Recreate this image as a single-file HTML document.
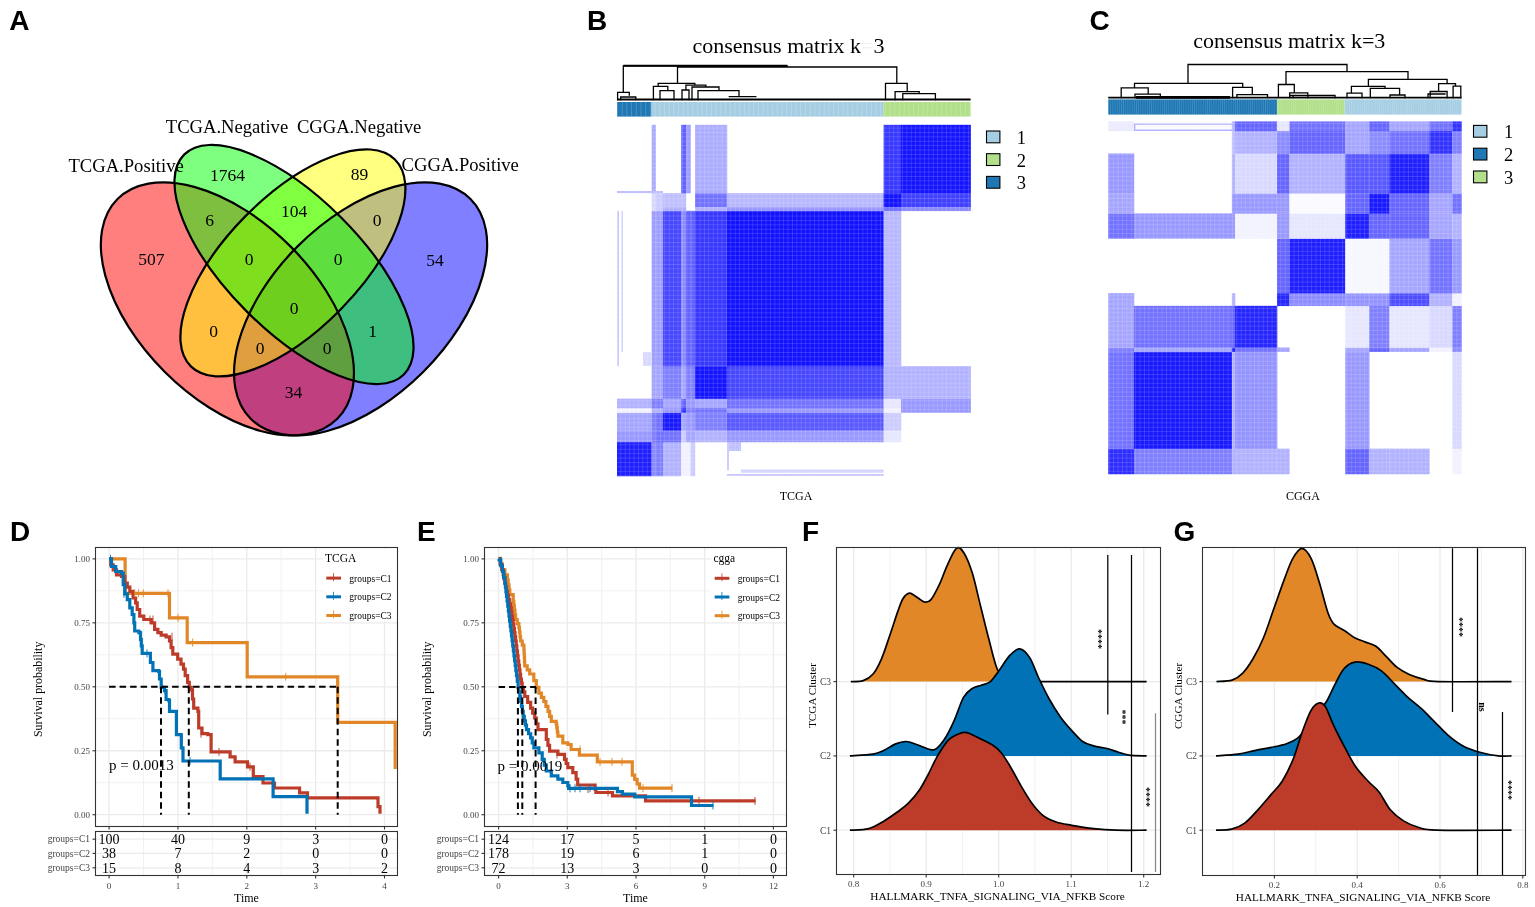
<!DOCTYPE html>
<html><head><meta charset="utf-8"><title>Figure</title><style>html,body{margin:0;padding:0;background:#fff;overflow:hidden}svg{display:block}</style></head><body>
<svg width="1535" height="907" viewBox="0 0 1535 907">
<defs><pattern id="tex" x="0" y="0" width="4.4" height="4.4" patternUnits="userSpaceOnUse"><rect x="0" y="0" width="0.8" height="4.4" fill="#fff" fill-opacity="0.16"/><rect x="0" y="0" width="4.4" height="0.8" fill="#fff" fill-opacity="0.16"/></pattern><pattern id="stB" x="617" y="0" width="4.7" height="20" patternUnits="userSpaceOnUse"><rect x="0" y="0" width="0.8" height="20" fill="#fff" fill-opacity="0.22"/></pattern><pattern id="stC" x="1108.2" y="0" width="2.15" height="20" patternUnits="userSpaceOnUse"><rect x="0" y="0" width="0.6" height="20" fill="#fff" fill-opacity="0.18"/></pattern></defs>
<rect width="1535" height="907" fill="#fff"/>
<text x="9.3" y="29.9" font-family="'Liberation Sans',Arial,sans-serif" font-weight="bold" font-size="28">A</text>
<text x="587" y="29.8" font-family="'Liberation Sans',Arial,sans-serif" font-weight="bold" font-size="28">B</text>
<text x="1089.5" y="29.6" font-family="'Liberation Sans',Arial,sans-serif" font-weight="bold" font-size="28">C</text>
<text x="10" y="540.7" font-family="'Liberation Sans',Arial,sans-serif" font-weight="bold" font-size="28">D</text>
<text x="417" y="541" font-family="'Liberation Sans',Arial,sans-serif" font-weight="bold" font-size="28">E</text>
<text x="802" y="541" font-family="'Liberation Sans',Arial,sans-serif" font-weight="bold" font-size="28">F</text>
<text x="1173.5" y="540.8" font-family="'Liberation Sans',Arial,sans-serif" font-weight="bold" font-size="28">G</text>
<ellipse cx="360.6" cy="308.92" rx="155.4" ry="88.8" transform="rotate(-45 360.6 308.92)" fill="#0000FF" fill-opacity="0.5"/>
<ellipse cx="227.4" cy="308.92" rx="155.4" ry="88.8" transform="rotate(45 227.4 308.92)" fill="#FF0000" fill-opacity="0.5"/>
<ellipse cx="292.9" cy="262.9" rx="145.3" ry="66.6" transform="rotate(-45.4 292.9 262.9)" fill="#FFFF00" fill-opacity="0.5"/>
<ellipse cx="294" cy="264.52" rx="155.4" ry="66.6" transform="rotate(45 294 264.52)" fill="#00FF00" fill-opacity="0.5"/>
<ellipse cx="360.6" cy="308.92" rx="155.4" ry="88.8" transform="rotate(-45 360.6 308.92)" fill="none" stroke="#000" stroke-width="2.2"/>
<ellipse cx="227.4" cy="308.92" rx="155.4" ry="88.8" transform="rotate(45 227.4 308.92)" fill="none" stroke="#000" stroke-width="2.2"/>
<ellipse cx="292.9" cy="262.9" rx="145.3" ry="66.6" transform="rotate(-45.4 292.9 262.9)" fill="none" stroke="#000" stroke-width="2.2"/>
<ellipse cx="294" cy="264.52" rx="155.4" ry="66.6" transform="rotate(45 294 264.52)" fill="none" stroke="#000" stroke-width="2.2"/>
<text x="151.3" y="265.4" font-family="'Liberation Serif','Times New Roman',serif" font-size="17.5" text-anchor="middle">507</text>
<text x="227.5" y="180.7" font-family="'Liberation Serif','Times New Roman',serif" font-size="17.5" text-anchor="middle">1764</text>
<text x="209.5" y="225.7" font-family="'Liberation Serif','Times New Roman',serif" font-size="17.5" text-anchor="middle">6</text>
<text x="249.2" y="264.6" font-family="'Liberation Serif','Times New Roman',serif" font-size="17.5" text-anchor="middle">0</text>
<text x="294" y="217" font-family="'Liberation Serif','Times New Roman',serif" font-size="17.5" text-anchor="middle">104</text>
<text x="359.6" y="180.3" font-family="'Liberation Serif','Times New Roman',serif" font-size="17.5" text-anchor="middle">89</text>
<text x="377" y="226" font-family="'Liberation Serif','Times New Roman',serif" font-size="17.5" text-anchor="middle">0</text>
<text x="338" y="265" font-family="'Liberation Serif','Times New Roman',serif" font-size="17.5" text-anchor="middle">0</text>
<text x="435" y="265.5" font-family="'Liberation Serif','Times New Roman',serif" font-size="17.5" text-anchor="middle">54</text>
<text x="294" y="314.3" font-family="'Liberation Serif','Times New Roman',serif" font-size="17.5" text-anchor="middle">0</text>
<text x="213.7" y="336.5" font-family="'Liberation Serif','Times New Roman',serif" font-size="17.5" text-anchor="middle">0</text>
<text x="260" y="354" font-family="'Liberation Serif','Times New Roman',serif" font-size="17.5" text-anchor="middle">0</text>
<text x="327" y="354" font-family="'Liberation Serif','Times New Roman',serif" font-size="17.5" text-anchor="middle">0</text>
<text x="372.5" y="336.5" font-family="'Liberation Serif','Times New Roman',serif" font-size="17.5" text-anchor="middle">1</text>
<text x="293.6" y="398" font-family="'Liberation Serif','Times New Roman',serif" font-size="17.5" text-anchor="middle">34</text>
<text x="68.5" y="172" font-family="'Liberation Serif','Times New Roman',serif" font-size="18.6">TCGA.Positive</text>
<text x="165.8" y="133" font-family="'Liberation Serif','Times New Roman',serif" font-size="18.6">TCGA.Negative</text>
<text x="296.9" y="132.5" font-family="'Liberation Serif','Times New Roman',serif" font-size="18.6">CGGA.Negative</text>
<text x="401.6" y="171" font-family="'Liberation Serif','Times New Roman',serif" font-size="18.6">CGGA.Positive</text>
<rect x="617" y="442" width="34.87" height="34.25" fill="rgb(31,31,255)"/>
<rect x="651.62" y="442" width="4.25" height="34.25" fill="rgb(140,140,255)"/>
<rect x="655.61" y="442" width="7.64" height="34.25" fill="rgb(128,128,255)"/>
<rect x="663" y="442" width="18.46" height="34.25" fill="rgb(178,178,255)"/>
<rect x="681.21" y="442" width="5.02" height="34.25" fill="rgb(242,242,255)"/>
<rect x="685.99" y="442" width="4.78" height="34.25" fill="rgb(242,242,255)"/>
<rect x="690.51" y="442" width="4.74" height="34.25" fill="rgb(204,204,255)"/>
<rect x="617" y="430.31" width="34.87" height="11.94" fill="rgb(153,153,255)"/>
<rect x="651.62" y="430.31" width="4.25" height="11.94" fill="rgb(128,128,255)"/>
<rect x="655.61" y="430.31" width="7.64" height="11.94" fill="rgb(115,115,255)"/>
<rect x="663" y="430.31" width="18.46" height="11.94" fill="rgb(115,115,255)"/>
<rect x="681.21" y="430.31" width="5.02" height="11.94" fill="rgb(204,204,255)"/>
<rect x="685.99" y="430.31" width="4.78" height="11.94" fill="rgb(166,166,255)"/>
<rect x="690.51" y="430.31" width="4.74" height="11.94" fill="rgb(166,166,255)"/>
<rect x="695" y="430.31" width="32.25" height="11.94" fill="rgb(178,178,255)"/>
<rect x="727" y="430.31" width="156.86" height="11.94" fill="rgb(153,153,255)"/>
<rect x="883.61" y="430.31" width="17.65" height="11.94" fill="rgb(230,230,255)"/>
<rect x="617" y="412.5" width="34.87" height="18.06" fill="rgb(166,166,255)"/>
<rect x="651.62" y="412.5" width="4.25" height="18.06" fill="rgb(128,128,255)"/>
<rect x="655.61" y="412.5" width="7.64" height="18.06" fill="rgb(115,115,255)"/>
<rect x="663" y="412.5" width="18.46" height="18.06" fill="rgb(25,25,255)"/>
<rect x="681.21" y="412.5" width="5.02" height="18.06" fill="rgb(166,166,255)"/>
<rect x="685.99" y="412.5" width="4.78" height="18.06" fill="rgb(153,153,255)"/>
<rect x="690.51" y="412.5" width="4.74" height="18.06" fill="rgb(153,153,255)"/>
<rect x="695" y="412.5" width="32.25" height="18.06" fill="rgb(128,128,255)"/>
<rect x="727" y="412.5" width="156.86" height="18.06" fill="rgb(89,89,255)"/>
<rect x="883.61" y="412.5" width="17.65" height="18.06" fill="rgb(204,204,255)"/>
<rect x="617" y="408.01" width="34.87" height="4.75" fill="rgb(242,242,255)"/>
<rect x="651.62" y="408.01" width="4.25" height="4.75" fill="rgb(178,178,255)"/>
<rect x="655.61" y="408.01" width="7.64" height="4.75" fill="rgb(178,178,255)"/>
<rect x="663" y="408.01" width="18.46" height="4.75" fill="rgb(153,153,255)"/>
<rect x="681.21" y="408.01" width="5.02" height="4.75" fill="rgb(51,51,255)"/>
<rect x="685.99" y="408.01" width="4.78" height="4.75" fill="rgb(128,128,255)"/>
<rect x="690.51" y="408.01" width="4.74" height="4.75" fill="rgb(128,128,255)"/>
<rect x="695" y="408.01" width="32.25" height="4.75" fill="rgb(115,115,255)"/>
<rect x="727" y="408.01" width="156.86" height="4.75" fill="rgb(153,153,255)"/>
<rect x="883.61" y="408.01" width="17.65" height="4.75" fill="rgb(242,242,255)"/>
<rect x="901.01" y="408.01" width="69.84" height="4.75" fill="rgb(153,153,255)"/>
<rect x="617" y="398.6" width="34.87" height="9.66" fill="rgb(178,178,255)"/>
<rect x="651.62" y="398.6" width="4.25" height="9.66" fill="rgb(128,128,255)"/>
<rect x="655.61" y="398.6" width="7.64" height="9.66" fill="rgb(128,128,255)"/>
<rect x="663" y="398.6" width="18.46" height="9.66" fill="rgb(166,166,255)"/>
<rect x="681.21" y="398.6" width="5.02" height="9.66" fill="rgb(102,102,255)"/>
<rect x="685.99" y="398.6" width="4.78" height="9.66" fill="rgb(153,153,255)"/>
<rect x="690.51" y="398.6" width="4.74" height="9.66" fill="rgb(153,153,255)"/>
<rect x="695" y="398.6" width="32.25" height="9.66" fill="rgb(166,166,255)"/>
<rect x="727" y="398.6" width="156.86" height="9.66" fill="rgb(115,115,255)"/>
<rect x="883.61" y="398.6" width="17.65" height="9.66" fill="rgb(230,230,255)"/>
<rect x="901.01" y="398.6" width="69.84" height="9.66" fill="rgb(153,153,255)"/>
<rect x="651.62" y="366.21" width="4.25" height="32.63" fill="rgb(166,166,255)"/>
<rect x="655.61" y="366.21" width="7.64" height="32.63" fill="rgb(166,166,255)"/>
<rect x="663" y="366.21" width="18.46" height="32.63" fill="rgb(128,128,255)"/>
<rect x="681.21" y="366.21" width="5.02" height="32.63" fill="rgb(166,166,255)"/>
<rect x="685.99" y="366.21" width="4.78" height="32.63" fill="rgb(128,128,255)"/>
<rect x="690.51" y="366.21" width="4.74" height="32.63" fill="rgb(128,128,255)"/>
<rect x="695" y="366.21" width="32.25" height="32.63" fill="rgb(20,20,255)"/>
<rect x="727" y="366.21" width="156.86" height="32.63" fill="rgb(71,71,255)"/>
<rect x="883.61" y="366.21" width="17.65" height="32.63" fill="rgb(178,178,255)"/>
<rect x="901.01" y="366.21" width="69.84" height="32.63" fill="rgb(178,178,255)"/>
<rect x="651.62" y="210.84" width="4.25" height="155.62" fill="rgb(158,158,255)"/>
<rect x="655.61" y="210.84" width="7.64" height="155.62" fill="rgb(158,158,255)"/>
<rect x="663" y="210.84" width="18.46" height="155.62" fill="rgb(71,71,255)"/>
<rect x="681.21" y="210.84" width="5.02" height="155.62" fill="rgb(140,140,255)"/>
<rect x="685.99" y="210.84" width="4.78" height="155.62" fill="rgb(97,97,255)"/>
<rect x="690.51" y="210.84" width="4.74" height="155.62" fill="rgb(97,97,255)"/>
<rect x="695" y="210.84" width="32.25" height="155.62" fill="rgb(56,56,255)"/>
<rect x="727" y="210.84" width="156.86" height="155.62" fill="rgb(18,18,255)"/>
<rect x="883.61" y="210.84" width="17.65" height="155.62" fill="rgb(184,184,255)"/>
<rect x="651.62" y="206.81" width="4.25" height="4.29" fill="rgb(217,217,255)"/>
<rect x="655.61" y="206.81" width="7.64" height="4.29" fill="rgb(204,204,255)"/>
<rect x="663" y="206.81" width="18.46" height="4.29" fill="rgb(178,178,255)"/>
<rect x="681.21" y="206.81" width="5.02" height="4.29" fill="rgb(178,178,255)"/>
<rect x="695" y="206.81" width="32.25" height="4.29" fill="rgb(178,178,255)"/>
<rect x="727" y="206.81" width="156.86" height="4.29" fill="rgb(153,153,255)"/>
<rect x="883.61" y="206.81" width="17.65" height="4.29" fill="rgb(115,115,255)"/>
<rect x="901.01" y="206.81" width="69.84" height="4.29" fill="rgb(140,140,255)"/>
<rect x="651.62" y="193.11" width="4.25" height="13.95" fill="rgb(217,217,255)"/>
<rect x="655.61" y="193.11" width="7.64" height="13.95" fill="rgb(204,204,255)"/>
<rect x="663" y="193.11" width="18.46" height="13.95" fill="rgb(191,191,255)"/>
<rect x="681.21" y="193.11" width="5.02" height="13.95" fill="rgb(191,191,255)"/>
<rect x="695" y="193.11" width="32.25" height="13.95" fill="rgb(115,115,255)"/>
<rect x="727" y="193.11" width="156.86" height="13.95" fill="rgb(184,184,255)"/>
<rect x="883.61" y="193.11" width="17.65" height="13.95" fill="rgb(20,20,255)"/>
<rect x="901.01" y="193.11" width="69.84" height="13.95" fill="rgb(64,64,255)"/>
<rect x="651.62" y="124.8" width="4.25" height="68.56" fill="rgb(173,173,255)"/>
<rect x="681.21" y="124.8" width="5.02" height="68.56" fill="rgb(97,97,255)"/>
<rect x="685.99" y="124.8" width="4.78" height="68.56" fill="rgb(158,158,255)"/>
<rect x="695" y="124.8" width="32.25" height="68.56" fill="rgb(173,173,255)"/>
<rect x="883.61" y="124.8" width="17.65" height="68.56" fill="rgb(56,56,255)"/>
<rect x="901.01" y="124.8" width="69.84" height="68.56" fill="rgb(20,20,255)"/>
<rect x="617.3" y="211" width="1.7" height="155" fill="rgb(199,199,255)"/>
<rect x="621.5" y="211" width="1.5" height="141" fill="rgb(209,209,255)"/>
<rect x="643" y="352" width="8.6" height="14" fill="rgb(217,217,255)"/>
<rect x="617" y="191" width="46" height="2.1" fill="rgb(191,191,255)"/>
<rect x="727" y="442" width="14" height="9" fill="rgb(191,191,255)"/>
<rect x="741" y="469.6" width="142.6" height="3.1" fill="rgb(209,209,255)"/>
<rect x="727" y="474" width="156.6" height="2" fill="rgb(199,199,255)"/>
<rect x="727" y="442" width="2" height="28" fill="rgb(204,204,255)"/>
<rect x="617" y="124.8" width="353.6" height="351.2" fill="url(#tex)"/>
<rect x="617" y="102" width="34.5" height="14.6" fill="#1F78B4"/>
<rect x="651.5" y="102" width="232.1" height="14.6" fill="#A6CEE3"/>
<rect x="883.6" y="102" width="87" height="14.6" fill="#B2DF8A"/>
<rect x="617" y="102" width="353.6" height="14.6" fill="url(#stB)"/>
<path d="M623.3 65.8 H787.2 M677.5 67 H896.8 M623.3 65.8 V92.4 M617.6 92.4 H629.3 M617.6 92.4 V99.6 M629.3 92.4 V95 M620.7 97 H635.8 M620.7 97 V99.6 M635.8 97 V99.6 M677.5 67 V83.4 M658.2 83.4 H694.8 M658.2 83.4 V86.3 M653.4 86.3 H667.8 M653.4 86.3 V99.6 M667.8 86.3 V90.7 M660 90.7 H674 M660 90.7 V99.6 M674 90.7 V99.6 M694.8 83.4 V85.1 M685.9 85.1 H705.9 M685.9 85.1 V90 M682 90 H689 M682 90 V99.6 M689 90 V99.6 M705.9 85.1 V87 M692 87 H719 M692 87 V99.6 M719 87 V90.7 M698 90.7 H739 M698 90.7 V99.6 M739 90.7 V96.7 M729.3 96.7 H755.8 M896.8 67 V83.4 M885.5 83.4 H907.2 M885.5 83.4 V99.6 M907.2 83.4 V91.6 M895.1 91.6 H919.2 M895.1 91.6 V99.6 M919.2 91.6 V93.6 M902.8 93.6 H935.4 M902.8 93.6 V99.6 M935.4 93.6 V99.6" fill="none" stroke="#000" stroke-width="1.3" stroke-linecap="square"/>
<path d="M623.3 65.8 H787.2" stroke="#000" stroke-width="2"/>
<path d="M617 99.6 H970.6" stroke="#000" stroke-width="2"/>
<text x="788.5" y="53" font-family="'Liberation Serif','Times New Roman',serif" font-size="22" text-anchor="middle">consensus matrix k<tspan fill="#f2f2f2">=</tspan>3</text>
<text x="796" y="499.7" font-family="'Liberation Serif','Times New Roman',serif" font-size="12" text-anchor="middle">TCGA</text>
<rect x="986.5" y="131" width="13.4" height="11.8" fill="#A6CEE3" stroke="#000" stroke-width="1.1"/>
<text x="1021.3" y="144" font-family="'Liberation Serif','Times New Roman',serif" font-size="18.5" text-anchor="middle">1</text>
<rect x="986.5" y="153.7" width="13.4" height="11.8" fill="#B2DF8A" stroke="#000" stroke-width="1.1"/>
<text x="1021.3" y="166.7" font-family="'Liberation Serif','Times New Roman',serif" font-size="18.5" text-anchor="middle">2</text>
<rect x="986.5" y="176.4" width="13.4" height="11.8" fill="#1F78B4" stroke="#000" stroke-width="1.1"/>
<text x="1021.3" y="189.4" font-family="'Liberation Serif','Times New Roman',serif" font-size="18.5" text-anchor="middle">3</text>
<rect x="1108.2" y="448.61" width="26.04" height="25.64" fill="rgb(46,46,255)"/>
<rect x="1133.99" y="448.61" width="98.11" height="25.64" fill="rgb(128,128,255)"/>
<rect x="1231.86" y="448.61" width="3.43" height="25.64" fill="rgb(178,178,255)"/>
<rect x="1235.03" y="448.61" width="42.29" height="25.64" fill="rgb(178,178,255)"/>
<rect x="1277.08" y="448.61" width="12.62" height="25.64" fill="rgb(178,178,255)"/>
<rect x="1345.26" y="448.61" width="24.27" height="25.64" fill="rgb(102,102,255)"/>
<rect x="1369.29" y="448.61" width="20.39" height="25.64" fill="rgb(178,178,255)"/>
<rect x="1389.43" y="448.61" width="40.17" height="25.64" fill="rgb(178,178,255)"/>
<rect x="1452.31" y="448.61" width="9.44" height="25.64" fill="rgb(242,242,255)"/>
<rect x="1108.2" y="351.65" width="26.04" height="97.21" fill="rgb(115,115,255)"/>
<rect x="1133.99" y="351.65" width="98.11" height="97.21" fill="rgb(25,25,255)"/>
<rect x="1231.86" y="351.65" width="3.43" height="97.21" fill="rgb(178,178,255)"/>
<rect x="1235.03" y="351.65" width="42.29" height="97.21" fill="rgb(148,148,255)"/>
<rect x="1345.26" y="351.65" width="24.27" height="97.21" fill="rgb(153,153,255)"/>
<rect x="1452.31" y="351.65" width="9.44" height="97.21" fill="rgb(217,217,255)"/>
<rect x="1108.2" y="347.42" width="26.04" height="4.48" fill="rgb(128,128,255)"/>
<rect x="1133.99" y="347.42" width="98.11" height="4.48" fill="rgb(166,166,255)"/>
<rect x="1231.86" y="347.42" width="3.43" height="4.48" fill="rgb(38,38,255)"/>
<rect x="1235.03" y="347.42" width="42.29" height="4.48" fill="rgb(115,115,255)"/>
<rect x="1277.08" y="347.42" width="12.62" height="4.48" fill="rgb(166,166,255)"/>
<rect x="1345.26" y="347.42" width="24.27" height="4.48" fill="rgb(166,166,255)"/>
<rect x="1369.29" y="347.42" width="20.39" height="4.48" fill="rgb(102,102,255)"/>
<rect x="1389.43" y="347.42" width="40.17" height="4.48" fill="rgb(166,166,255)"/>
<rect x="1429.35" y="347.42" width="23.21" height="4.48" fill="rgb(242,242,255)"/>
<rect x="1452.31" y="347.42" width="9.44" height="4.48" fill="rgb(140,140,255)"/>
<rect x="1108.2" y="305.81" width="26.04" height="41.86" fill="rgb(166,166,255)"/>
<rect x="1133.99" y="305.81" width="98.11" height="41.86" fill="rgb(115,115,255)"/>
<rect x="1231.86" y="305.81" width="3.43" height="41.86" fill="rgb(102,102,255)"/>
<rect x="1235.03" y="305.81" width="42.29" height="41.86" fill="rgb(38,38,255)"/>
<rect x="1345.26" y="305.81" width="24.27" height="41.86" fill="rgb(230,230,255)"/>
<rect x="1369.29" y="305.81" width="20.39" height="41.86" fill="rgb(128,128,255)"/>
<rect x="1389.43" y="305.81" width="40.17" height="41.86" fill="rgb(230,230,255)"/>
<rect x="1429.35" y="305.81" width="23.21" height="41.86" fill="rgb(217,217,255)"/>
<rect x="1452.31" y="305.81" width="9.44" height="41.86" fill="rgb(128,128,255)"/>
<rect x="1108.2" y="293.12" width="26.04" height="12.94" fill="rgb(166,166,255)"/>
<rect x="1231.86" y="293.12" width="3.43" height="12.94" fill="rgb(178,178,255)"/>
<rect x="1277.08" y="293.12" width="12.62" height="12.94" fill="rgb(38,38,255)"/>
<rect x="1289.44" y="293.12" width="56.07" height="12.94" fill="rgb(140,140,255)"/>
<rect x="1345.26" y="293.12" width="24.27" height="12.94" fill="rgb(148,148,255)"/>
<rect x="1369.29" y="293.12" width="20.39" height="12.94" fill="rgb(148,148,255)"/>
<rect x="1389.43" y="293.12" width="40.17" height="12.94" fill="rgb(77,77,255)"/>
<rect x="1429.35" y="293.12" width="23.21" height="12.94" fill="rgb(178,178,255)"/>
<rect x="1452.31" y="293.12" width="9.44" height="12.94" fill="rgb(242,242,255)"/>
<rect x="1277.08" y="238.46" width="12.62" height="54.9" fill="rgb(102,102,255)"/>
<rect x="1289.44" y="238.46" width="56.07" height="54.9" fill="rgb(31,31,255)"/>
<rect x="1345.26" y="238.46" width="24.27" height="54.9" fill="rgb(247,247,255)"/>
<rect x="1369.29" y="238.46" width="20.39" height="54.9" fill="rgb(247,247,255)"/>
<rect x="1389.43" y="238.46" width="40.17" height="54.9" fill="rgb(166,166,255)"/>
<rect x="1429.35" y="238.46" width="23.21" height="54.9" fill="rgb(115,115,255)"/>
<rect x="1452.31" y="238.46" width="9.44" height="54.9" fill="rgb(153,153,255)"/>
<rect x="1108.2" y="213.43" width="26.04" height="25.28" fill="rgb(115,115,255)"/>
<rect x="1133.99" y="213.43" width="98.11" height="25.28" fill="rgb(153,153,255)"/>
<rect x="1231.86" y="213.43" width="3.43" height="25.28" fill="rgb(153,153,255)"/>
<rect x="1235.03" y="213.43" width="42.29" height="25.28" fill="rgb(242,242,255)"/>
<rect x="1277.08" y="213.43" width="12.62" height="25.28" fill="rgb(153,153,255)"/>
<rect x="1289.44" y="213.43" width="56.07" height="25.28" fill="rgb(230,230,255)"/>
<rect x="1345.26" y="213.43" width="24.27" height="25.28" fill="rgb(31,31,255)"/>
<rect x="1369.29" y="213.43" width="20.39" height="25.28" fill="rgb(102,102,255)"/>
<rect x="1389.43" y="213.43" width="40.17" height="25.28" fill="rgb(102,102,255)"/>
<rect x="1429.35" y="213.43" width="23.21" height="25.28" fill="rgb(166,166,255)"/>
<rect x="1452.31" y="213.43" width="9.44" height="25.28" fill="rgb(178,178,255)"/>
<rect x="1108.2" y="193.33" width="26.04" height="20.35" fill="rgb(166,166,255)"/>
<rect x="1231.86" y="193.33" width="3.43" height="20.35" fill="rgb(153,153,255)"/>
<rect x="1235.03" y="193.33" width="42.29" height="20.35" fill="rgb(153,153,255)"/>
<rect x="1277.08" y="193.33" width="12.62" height="20.35" fill="rgb(153,153,255)"/>
<rect x="1289.44" y="193.33" width="56.07" height="20.35" fill="rgb(250,250,255)"/>
<rect x="1345.26" y="193.33" width="24.27" height="20.35" fill="rgb(102,102,255)"/>
<rect x="1369.29" y="193.33" width="20.39" height="20.35" fill="rgb(25,25,255)"/>
<rect x="1389.43" y="193.33" width="40.17" height="20.35" fill="rgb(102,102,255)"/>
<rect x="1429.35" y="193.33" width="23.21" height="20.35" fill="rgb(166,166,255)"/>
<rect x="1452.31" y="193.33" width="9.44" height="20.35" fill="rgb(115,115,255)"/>
<rect x="1108.2" y="153.49" width="26.04" height="40.09" fill="rgb(153,153,255)"/>
<rect x="1231.86" y="153.49" width="3.43" height="40.09" fill="rgb(178,178,255)"/>
<rect x="1235.03" y="153.49" width="42.29" height="40.09" fill="rgb(217,217,255)"/>
<rect x="1277.08" y="153.49" width="12.62" height="40.09" fill="rgb(102,102,255)"/>
<rect x="1289.44" y="153.49" width="56.07" height="40.09" fill="rgb(178,178,255)"/>
<rect x="1345.26" y="153.49" width="24.27" height="40.09" fill="rgb(89,89,255)"/>
<rect x="1369.29" y="153.49" width="20.39" height="40.09" fill="rgb(89,89,255)"/>
<rect x="1389.43" y="153.49" width="40.17" height="40.09" fill="rgb(31,31,255)"/>
<rect x="1429.35" y="153.49" width="23.21" height="40.09" fill="rgb(128,128,255)"/>
<rect x="1452.31" y="153.49" width="9.44" height="40.09" fill="rgb(178,178,255)"/>
<rect x="1231.86" y="130.92" width="3.43" height="22.82" fill="rgb(191,191,255)"/>
<rect x="1235.03" y="130.92" width="42.29" height="22.82" fill="rgb(178,178,255)"/>
<rect x="1277.08" y="130.92" width="12.62" height="22.82" fill="rgb(140,140,255)"/>
<rect x="1289.44" y="130.92" width="56.07" height="22.82" fill="rgb(102,102,255)"/>
<rect x="1345.26" y="130.92" width="24.27" height="22.82" fill="rgb(166,166,255)"/>
<rect x="1369.29" y="130.92" width="20.39" height="22.82" fill="rgb(140,140,255)"/>
<rect x="1389.43" y="130.92" width="40.17" height="22.82" fill="rgb(115,115,255)"/>
<rect x="1429.35" y="130.92" width="23.21" height="22.82" fill="rgb(51,51,255)"/>
<rect x="1452.31" y="130.92" width="9.44" height="22.82" fill="rgb(128,128,255)"/>
<rect x="1108.2" y="121.4" width="26.04" height="9.77" fill="rgb(235,235,255)"/>
<rect x="1133.99" y="121.4" width="98.11" height="9.77" fill="rgb(250,250,255)"/>
<rect x="1231.86" y="121.4" width="3.43" height="9.77" fill="rgb(178,178,255)"/>
<rect x="1235.03" y="121.4" width="42.29" height="9.77" fill="rgb(102,102,255)"/>
<rect x="1277.08" y="121.4" width="12.62" height="9.77" fill="rgb(230,230,255)"/>
<rect x="1289.44" y="121.4" width="56.07" height="9.77" fill="rgb(115,115,255)"/>
<rect x="1345.26" y="121.4" width="24.27" height="9.77" fill="rgb(166,166,255)"/>
<rect x="1369.29" y="121.4" width="20.39" height="9.77" fill="rgb(102,102,255)"/>
<rect x="1389.43" y="121.4" width="40.17" height="9.77" fill="rgb(166,166,255)"/>
<rect x="1429.35" y="121.4" width="23.21" height="9.77" fill="rgb(115,115,255)"/>
<rect x="1452.31" y="121.4" width="9.44" height="9.77" fill="rgb(51,51,255)"/>
<rect x="1134" y="123.5" width="98" height="1.3" fill="rgb(178,178,255)"/>
<rect x="1134" y="129.5" width="98" height="1.5" fill="rgb(178,178,255)"/>
<rect x="1134" y="123.5" width="1.5" height="7.5" fill="rgb(178,178,255)"/>
<rect x="1108.2" y="121.4" width="353.3" height="352.6" fill="url(#tex)"/>
<rect x="1108.2" y="99.4" width="168.9" height="15.2" fill="#1F78B4"/>
<rect x="1277.1" y="99.4" width="67.5" height="15.2" fill="#B2DF8A"/>
<rect x="1344.6" y="99.4" width="116.9" height="15.2" fill="#A6CEE3"/>
<rect x="1108.2" y="99.4" width="353.3" height="15.2" fill="url(#stC)"/>
<path d="M1188 64.5 H1347 M1188 64.5 V83.3 M1134.5 83.3 H1242.7 M1134.5 83.3 V87.8 M1121.2 87.8 H1148.2 M1121.2 87.8 V97.5 M1148.2 87.8 V94.1 M1135 94.1 H1160.3 M1135 94.1 V97.5 M1160.3 94.1 V97.5 M1242.7 83.3 V87.4 M1232.6 87.4 H1252.3 M1232.6 87.4 V97.5 M1252.3 87.4 V94.6 M1236.9 94.6 H1267.5 M1236.9 94.6 V97.5 M1267.5 94.6 V97.5 M1347 64.5 V71.7 M1286 71.7 H1408 M1286 71.7 V84.5 M1278.4 84.5 H1294.3 M1278.4 84.5 V97.5 M1294.3 84.5 V92.9 M1289.7 92.9 H1307.8 M1289.7 92.9 V97.5 M1307.8 92.9 V97.5 M1408 71.7 V79.4 M1368.4 79.4 H1447.1 M1368.4 79.4 V86.3 M1351.4 86.3 H1385 M1351.4 86.3 V93.2 M1347 93.2 H1362 M1347 93.2 V97.5 M1362 93.2 V97.5 M1385 86.3 V88.3 M1370.3 88.3 H1399.6 M1370.3 88.3 V97.5 M1399.6 88.3 V95 M1390 95 H1405 M1390 95 V97.5 M1405 95 V97.5 M1291 95.5 H1335 M1293 95.5 V97.5 M1335 95.5 V97.5 M1428 94 H1445 M1428 94 V97.5 M1447.1 79.4 V83.7 M1438.6 83.7 H1455.5 M1438.6 83.7 V91.5 M1430.2 91.5 H1447.1 M1430.2 91.5 V97.5 M1447.1 91.5 V97.5 M1455.5 83.7 V86.2 M1453.1 86.2 H1460.8 M1453.1 86.2 V97.5 M1460.8 86.2 V97.5" fill="none" stroke="#000" stroke-width="1.3" stroke-linecap="square"/>
<path d="M1108.2 97.6 H1461.5" stroke="#000" stroke-width="1.8"/>
<path d="M1136 97.4 H1230" stroke="#000" stroke-width="2.6"/>
<text x="1289.3" y="48.4" font-family="'Liberation Serif','Times New Roman',serif" font-size="22" text-anchor="middle">consensus matrix k=3</text>
<text x="1302.9" y="500" font-family="'Liberation Serif','Times New Roman',serif" font-size="12" text-anchor="middle">CGGA</text>
<rect x="1473.5" y="125.4" width="13.4" height="11.8" fill="#A6CEE3" stroke="#000" stroke-width="1.1"/>
<text x="1508.5" y="137.9" font-family="'Liberation Serif','Times New Roman',serif" font-size="18.5" text-anchor="middle">1</text>
<rect x="1473.5" y="148.2" width="13.4" height="11.8" fill="#1F78B4" stroke="#000" stroke-width="1.1"/>
<text x="1508.5" y="160.7" font-family="'Liberation Serif','Times New Roman',serif" font-size="18.5" text-anchor="middle">2</text>
<rect x="1473.5" y="171" width="13.4" height="11.8" fill="#B2DF8A" stroke="#000" stroke-width="1.1"/>
<text x="1508.5" y="183.5" font-family="'Liberation Serif','Times New Roman',serif" font-size="18.5" text-anchor="middle">3</text>
<rect x="95.5" y="547.5" width="302" height="279" fill="#fff"/>
<line x1="143.52" y1="547.5" x2="143.52" y2="826.5" stroke="#EBEBEB" stroke-width="0.7"/>
<line x1="212.38" y1="547.5" x2="212.38" y2="826.5" stroke="#EBEBEB" stroke-width="0.7"/>
<line x1="281.23" y1="547.5" x2="281.23" y2="826.5" stroke="#EBEBEB" stroke-width="0.7"/>
<line x1="350.07" y1="547.5" x2="350.07" y2="826.5" stroke="#EBEBEB" stroke-width="0.7"/>
<line x1="95.5" y1="782.73" x2="397.5" y2="782.73" stroke="#EBEBEB" stroke-width="0.7"/>
<line x1="95.5" y1="718.78" x2="397.5" y2="718.78" stroke="#EBEBEB" stroke-width="0.7"/>
<line x1="95.5" y1="654.83" x2="397.5" y2="654.83" stroke="#EBEBEB" stroke-width="0.7"/>
<line x1="95.5" y1="590.88" x2="397.5" y2="590.88" stroke="#EBEBEB" stroke-width="0.7"/>
<line x1="109.1" y1="547.5" x2="109.1" y2="826.5" stroke="#EBEBEB" stroke-width="1.3"/>
<line x1="177.95" y1="547.5" x2="177.95" y2="826.5" stroke="#EBEBEB" stroke-width="1.3"/>
<line x1="246.8" y1="547.5" x2="246.8" y2="826.5" stroke="#EBEBEB" stroke-width="1.3"/>
<line x1="315.65" y1="547.5" x2="315.65" y2="826.5" stroke="#EBEBEB" stroke-width="1.3"/>
<line x1="384.5" y1="547.5" x2="384.5" y2="826.5" stroke="#EBEBEB" stroke-width="1.3"/>
<line x1="95.5" y1="814.7" x2="397.5" y2="814.7" stroke="#EBEBEB" stroke-width="1.3"/>
<line x1="95.5" y1="750.75" x2="397.5" y2="750.75" stroke="#EBEBEB" stroke-width="1.3"/>
<line x1="95.5" y1="686.8" x2="397.5" y2="686.8" stroke="#EBEBEB" stroke-width="1.3"/>
<line x1="95.5" y1="622.85" x2="397.5" y2="622.85" stroke="#EBEBEB" stroke-width="1.3"/>
<line x1="95.5" y1="558.9" x2="397.5" y2="558.9" stroke="#EBEBEB" stroke-width="1.3"/>
<rect x="323" y="548.8" width="73.5" height="72.5" fill="#fff"/>
<path d="M109.1 558.9 H125.1 V593.3 H169.5 V617.8 H187.2 V642.6 H247.2 V676.8 H337.7 V722.4 H395.2 V769" fill="none" stroke="#E18727" stroke-width="3.2" stroke-linejoin="miter"/>
<path d="M109.1 558.9 H110.7 V564.9 H113.2 V569.8 H116.5 V574.8 H121.5 V576.5 H124.8 V583.1 H127.3 V587.2 H129.8 V591.3 H133.1 V598 H135.6 V602.9 H137.2 V609.5 H139.7 V616.1 H143.8 V619.5 H151.3 V622.8 H154.6 V629.4 H157.9 V632.7 H161.2 V635.2 H166.1 V636.8 H169.5 V641 H171.1 V647.6 H172.8 V654.2 H177.7 V659.1 H181 V664.1 H183.5 V669.1 H185.2 V675.7 H187.6 V682.3 H189.3 V687.3 H191.3 V689.9 H192.5 V699 H193.7 V708.1 H197.9 V711.4 H198.7 V728 H202 V733.7 H207.8 V734.6 H211.1 V751.9 H230.1 V756.9 H235.1 V761.9 H247.5 V766.8 H253.3 V776.7 H263 V783 H274.5 V788 H299.6 V792.9 H307.5 V797.8 H378 V806.7 H380 V813.7" fill="none" stroke="#BC3C29" stroke-width="3.2" stroke-linejoin="miter"/>
<path d="M109.1 558.9 H111.5 V566.5 H115.7 V571.5 H121.5 V573.2 H123.2 V584.7 H124.8 V593.8 H127.3 V599.6 H129.8 V607.9 H132.2 V614.5 H133.9 V622.8 H134.7 V631 H138.9 V632.7 H140.5 V639.3 H141.3 V645.9 H142.2 V653.4 H150.4 V662.5 H152.9 V670.7 H158.7 V671.5 H159.5 V679 H161.2 V687.3 H164.5 V690.6 H166.1 V699.5 H168.9 V700.7 H169.5 V711.4 H175.6 V711.4 H176.4 V734.6 H180.5 V734.6 H181.3 V747.8 H183 V761 H220.2 V778.9 H273.1 V796.6 H307 V813.7" fill="none" stroke="#0072B5" stroke-width="3.2" stroke-linejoin="miter"/>
<line x1="134.7" y1="589.3" x2="134.7" y2="597.3" stroke="#E18727" stroke-width="0.9"/>
<line x1="138.5" y1="589.3" x2="138.5" y2="597.3" stroke="#E18727" stroke-width="0.9"/>
<line x1="143.3" y1="589.3" x2="143.3" y2="597.3" stroke="#E18727" stroke-width="0.9"/>
<line x1="168" y1="589.3" x2="168" y2="597.3" stroke="#E18727" stroke-width="0.9"/>
<line x1="178" y1="613.8" x2="178" y2="621.8" stroke="#E18727" stroke-width="0.9"/>
<line x1="192.6" y1="638.6" x2="192.6" y2="646.6" stroke="#E18727" stroke-width="0.9"/>
<line x1="285.7" y1="672.8" x2="285.7" y2="680.8" stroke="#E18727" stroke-width="0.9"/>
<line x1="150" y1="615.5" x2="150" y2="623.5" stroke="#BC3C29" stroke-width="0.9"/>
<line x1="153" y1="615.5" x2="153" y2="623.5" stroke="#BC3C29" stroke-width="0.9"/>
<line x1="172" y1="632.8" x2="172" y2="640.8" stroke="#BC3C29" stroke-width="0.9"/>
<line x1="201" y1="729.7" x2="201" y2="737.7" stroke="#BC3C29" stroke-width="0.9"/>
<line x1="219" y1="747.9" x2="219" y2="755.9" stroke="#BC3C29" stroke-width="0.9"/>
<line x1="250" y1="762.8" x2="250" y2="770.8" stroke="#BC3C29" stroke-width="0.9"/>
<line x1="110.5" y1="554.9" x2="110.5" y2="562.9" stroke="#0072B5" stroke-width="0.9"/>
<line x1="124" y1="589.8" x2="124" y2="597.8" stroke="#0072B5" stroke-width="0.9"/>
<line x1="147" y1="649.4" x2="147" y2="657.4" stroke="#0072B5" stroke-width="0.9"/>
<line x1="165" y1="686.6" x2="165" y2="694.6" stroke="#0072B5" stroke-width="0.9"/>
<line x1="190" y1="757" x2="190" y2="765" stroke="#0072B5" stroke-width="0.9"/>
<path d="M109.1 686.8 H337.7" fill="none" stroke="#000" stroke-width="2" stroke-dasharray="6.5 4"/>
<path d="M161 686.8 V814.7" fill="none" stroke="#000" stroke-width="2" stroke-dasharray="6.5 4"/>
<path d="M188.8 686.8 V814.7" fill="none" stroke="#000" stroke-width="2" stroke-dasharray="6.5 4"/>
<path d="M337.7 686.8 V814.7" fill="none" stroke="#000" stroke-width="2" stroke-dasharray="6.5 4"/>
<rect x="95.5" y="547.5" width="302" height="279" fill="none" stroke="#333333" stroke-width="1.1"/>
<line x1="92.5" y1="814.7" x2="95.5" y2="814.7" stroke="#333333" stroke-width="1.1"/>
<text x="90" y="817.9" font-family="'Liberation Serif','Times New Roman',serif" font-size="9" fill="#444444" text-anchor="end">0.00</text>
<line x1="92.5" y1="750.75" x2="95.5" y2="750.75" stroke="#333333" stroke-width="1.1"/>
<text x="90" y="753.95" font-family="'Liberation Serif','Times New Roman',serif" font-size="9" fill="#444444" text-anchor="end">0.25</text>
<line x1="92.5" y1="686.8" x2="95.5" y2="686.8" stroke="#333333" stroke-width="1.1"/>
<text x="90" y="690" font-family="'Liberation Serif','Times New Roman',serif" font-size="9" fill="#444444" text-anchor="end">0.50</text>
<line x1="92.5" y1="622.85" x2="95.5" y2="622.85" stroke="#333333" stroke-width="1.1"/>
<text x="90" y="626.05" font-family="'Liberation Serif','Times New Roman',serif" font-size="9" fill="#444444" text-anchor="end">0.75</text>
<line x1="92.5" y1="558.9" x2="95.5" y2="558.9" stroke="#333333" stroke-width="1.1"/>
<text x="90" y="562.1" font-family="'Liberation Serif','Times New Roman',serif" font-size="9" fill="#444444" text-anchor="end">1.00</text>
<line x1="109.1" y1="826.5" x2="109.1" y2="829.5" stroke="#333333" stroke-width="1.1"/>
<line x1="177.95" y1="826.5" x2="177.95" y2="829.5" stroke="#333333" stroke-width="1.1"/>
<line x1="246.8" y1="826.5" x2="246.8" y2="829.5" stroke="#333333" stroke-width="1.1"/>
<line x1="315.65" y1="826.5" x2="315.65" y2="829.5" stroke="#333333" stroke-width="1.1"/>
<line x1="384.5" y1="826.5" x2="384.5" y2="829.5" stroke="#333333" stroke-width="1.1"/>
<text transform="translate(41.7 689.4) rotate(-90)" font-family="'Liberation Serif','Times New Roman',serif" font-size="11.9" text-anchor="middle">Survival probability</text>
<text x="325" y="561.8" font-family="'Liberation Serif','Times New Roman',serif" font-size="11.5">TCGA</text>
<line x1="326.3" y1="578.1" x2="341" y2="578.1" stroke="#BC3C29" stroke-width="3"/>
<line x1="333.5" y1="573.1" x2="333.5" y2="581.1" stroke="#BC3C29" stroke-width="0.8"/>
<text x="349.3" y="581.6" font-family="'Liberation Serif','Times New Roman',serif" font-size="9.5" fill="#000">groups=C1</text>
<line x1="326.3" y1="596.8" x2="341" y2="596.8" stroke="#0072B5" stroke-width="3"/>
<line x1="333.5" y1="591.8" x2="333.5" y2="599.8" stroke="#0072B5" stroke-width="0.8"/>
<text x="349.3" y="600.3" font-family="'Liberation Serif','Times New Roman',serif" font-size="9.5" fill="#000">groups=C2</text>
<line x1="326.3" y1="615.5" x2="341" y2="615.5" stroke="#E18727" stroke-width="3"/>
<line x1="333.5" y1="610.5" x2="333.5" y2="618.5" stroke="#E18727" stroke-width="0.8"/>
<text x="349.3" y="619" font-family="'Liberation Serif','Times New Roman',serif" font-size="9.5" fill="#000">groups=C3</text>
<text x="109" y="769.6" font-family="'Liberation Serif','Times New Roman',serif" font-size="15">p = 0.0013</text>
<rect x="95.5" y="831.5" width="302" height="44" fill="#fff"/>
<line x1="143.52" y1="831.5" x2="143.52" y2="875.5" stroke="#EBEBEB" stroke-width="0.7"/>
<line x1="212.38" y1="831.5" x2="212.38" y2="875.5" stroke="#EBEBEB" stroke-width="0.7"/>
<line x1="281.23" y1="831.5" x2="281.23" y2="875.5" stroke="#EBEBEB" stroke-width="0.7"/>
<line x1="350.07" y1="831.5" x2="350.07" y2="875.5" stroke="#EBEBEB" stroke-width="0.7"/>
<line x1="109.1" y1="831.5" x2="109.1" y2="875.5" stroke="#EBEBEB" stroke-width="1.3"/>
<line x1="177.95" y1="831.5" x2="177.95" y2="875.5" stroke="#EBEBEB" stroke-width="1.3"/>
<line x1="246.8" y1="831.5" x2="246.8" y2="875.5" stroke="#EBEBEB" stroke-width="1.3"/>
<line x1="315.65" y1="831.5" x2="315.65" y2="875.5" stroke="#EBEBEB" stroke-width="1.3"/>
<line x1="384.5" y1="831.5" x2="384.5" y2="875.5" stroke="#EBEBEB" stroke-width="1.3"/>
<line x1="95.5" y1="839.2" x2="397.5" y2="839.2" stroke="#EBEBEB" stroke-width="1.3"/>
<line x1="95.5" y1="853.4" x2="397.5" y2="853.4" stroke="#EBEBEB" stroke-width="1.3"/>
<line x1="95.5" y1="867.8" x2="397.5" y2="867.8" stroke="#EBEBEB" stroke-width="1.3"/>
<text x="109.1" y="844.2" font-family="'Liberation Serif','Times New Roman',serif" font-size="14" text-anchor="middle">100</text>
<text x="177.95" y="844.2" font-family="'Liberation Serif','Times New Roman',serif" font-size="14" text-anchor="middle">40</text>
<text x="246.8" y="844.2" font-family="'Liberation Serif','Times New Roman',serif" font-size="14" text-anchor="middle">9</text>
<text x="315.65" y="844.2" font-family="'Liberation Serif','Times New Roman',serif" font-size="14" text-anchor="middle">3</text>
<text x="384.5" y="844.2" font-family="'Liberation Serif','Times New Roman',serif" font-size="14" text-anchor="middle">0</text>
<line x1="92.5" y1="839.2" x2="95.5" y2="839.2" stroke="#333333" stroke-width="1.1"/>
<text x="90" y="842.4" font-family="'Liberation Serif','Times New Roman',serif" font-size="9.5" fill="#444444" text-anchor="end">groups=C1</text>
<text x="109.1" y="858.4" font-family="'Liberation Serif','Times New Roman',serif" font-size="14" text-anchor="middle">38</text>
<text x="177.95" y="858.4" font-family="'Liberation Serif','Times New Roman',serif" font-size="14" text-anchor="middle">7</text>
<text x="246.8" y="858.4" font-family="'Liberation Serif','Times New Roman',serif" font-size="14" text-anchor="middle">2</text>
<text x="315.65" y="858.4" font-family="'Liberation Serif','Times New Roman',serif" font-size="14" text-anchor="middle">0</text>
<text x="384.5" y="858.4" font-family="'Liberation Serif','Times New Roman',serif" font-size="14" text-anchor="middle">0</text>
<line x1="92.5" y1="853.4" x2="95.5" y2="853.4" stroke="#333333" stroke-width="1.1"/>
<text x="90" y="856.6" font-family="'Liberation Serif','Times New Roman',serif" font-size="9.5" fill="#444444" text-anchor="end">groups=C2</text>
<text x="109.1" y="872.8" font-family="'Liberation Serif','Times New Roman',serif" font-size="14" text-anchor="middle">15</text>
<text x="177.95" y="872.8" font-family="'Liberation Serif','Times New Roman',serif" font-size="14" text-anchor="middle">8</text>
<text x="246.8" y="872.8" font-family="'Liberation Serif','Times New Roman',serif" font-size="14" text-anchor="middle">4</text>
<text x="315.65" y="872.8" font-family="'Liberation Serif','Times New Roman',serif" font-size="14" text-anchor="middle">3</text>
<text x="384.5" y="872.8" font-family="'Liberation Serif','Times New Roman',serif" font-size="14" text-anchor="middle">2</text>
<line x1="92.5" y1="867.8" x2="95.5" y2="867.8" stroke="#333333" stroke-width="1.1"/>
<text x="90" y="871" font-family="'Liberation Serif','Times New Roman',serif" font-size="9.5" fill="#444444" text-anchor="end">groups=C3</text>
<rect x="95.5" y="831.5" width="302" height="44" fill="none" stroke="#333333" stroke-width="1.1"/>
<line x1="109.1" y1="875.5" x2="109.1" y2="878.5" stroke="#333333" stroke-width="1.1"/>
<text x="109.1" y="889" font-family="'Liberation Serif','Times New Roman',serif" font-size="9" fill="#444444" text-anchor="middle">0</text>
<line x1="177.95" y1="875.5" x2="177.95" y2="878.5" stroke="#333333" stroke-width="1.1"/>
<text x="177.95" y="889" font-family="'Liberation Serif','Times New Roman',serif" font-size="9" fill="#444444" text-anchor="middle">1</text>
<line x1="246.8" y1="875.5" x2="246.8" y2="878.5" stroke="#333333" stroke-width="1.1"/>
<text x="246.8" y="889" font-family="'Liberation Serif','Times New Roman',serif" font-size="9" fill="#444444" text-anchor="middle">2</text>
<line x1="315.65" y1="875.5" x2="315.65" y2="878.5" stroke="#333333" stroke-width="1.1"/>
<text x="315.65" y="889" font-family="'Liberation Serif','Times New Roman',serif" font-size="9" fill="#444444" text-anchor="middle">3</text>
<line x1="384.5" y1="875.5" x2="384.5" y2="878.5" stroke="#333333" stroke-width="1.1"/>
<text x="384.5" y="889" font-family="'Liberation Serif','Times New Roman',serif" font-size="9" fill="#444444" text-anchor="middle">4</text>
<text x="246.5" y="902" font-family="'Liberation Serif','Times New Roman',serif" font-size="12" text-anchor="middle">Time</text>
<rect x="484.5" y="547.5" width="302" height="279" fill="#fff"/>
<line x1="532.95" y1="547.5" x2="532.95" y2="826.5" stroke="#EBEBEB" stroke-width="0.7"/>
<line x1="601.65" y1="547.5" x2="601.65" y2="826.5" stroke="#EBEBEB" stroke-width="0.7"/>
<line x1="670.35" y1="547.5" x2="670.35" y2="826.5" stroke="#EBEBEB" stroke-width="0.7"/>
<line x1="739.05" y1="547.5" x2="739.05" y2="826.5" stroke="#EBEBEB" stroke-width="0.7"/>
<line x1="484.5" y1="782.73" x2="786.5" y2="782.73" stroke="#EBEBEB" stroke-width="0.7"/>
<line x1="484.5" y1="718.78" x2="786.5" y2="718.78" stroke="#EBEBEB" stroke-width="0.7"/>
<line x1="484.5" y1="654.83" x2="786.5" y2="654.83" stroke="#EBEBEB" stroke-width="0.7"/>
<line x1="484.5" y1="590.88" x2="786.5" y2="590.88" stroke="#EBEBEB" stroke-width="0.7"/>
<line x1="498.6" y1="547.5" x2="498.6" y2="826.5" stroke="#EBEBEB" stroke-width="1.3"/>
<line x1="567.3" y1="547.5" x2="567.3" y2="826.5" stroke="#EBEBEB" stroke-width="1.3"/>
<line x1="636" y1="547.5" x2="636" y2="826.5" stroke="#EBEBEB" stroke-width="1.3"/>
<line x1="704.7" y1="547.5" x2="704.7" y2="826.5" stroke="#EBEBEB" stroke-width="1.3"/>
<line x1="773.4" y1="547.5" x2="773.4" y2="826.5" stroke="#EBEBEB" stroke-width="1.3"/>
<line x1="484.5" y1="814.7" x2="786.5" y2="814.7" stroke="#EBEBEB" stroke-width="1.3"/>
<line x1="484.5" y1="750.75" x2="786.5" y2="750.75" stroke="#EBEBEB" stroke-width="1.3"/>
<line x1="484.5" y1="686.8" x2="786.5" y2="686.8" stroke="#EBEBEB" stroke-width="1.3"/>
<line x1="484.5" y1="622.85" x2="786.5" y2="622.85" stroke="#EBEBEB" stroke-width="1.3"/>
<line x1="484.5" y1="558.9" x2="786.5" y2="558.9" stroke="#EBEBEB" stroke-width="1.3"/>
<rect x="711.4" y="549" width="74.1" height="72.5" fill="#fff"/>
<path d="M498.6 558.3 H500.5 V564.05 H502.4 V569.8 H504.9 V574.8 H507.4 V579.8 H508.2 V584.77 H509 V589.73 H509.8 V594.7 H513.2 V601.3 H513.8 V605.85 H514.4 V610.4 H515 V614.95 H515.6 V619.5 H517.25 V623.6 H518.9 V627.7 H519.47 V632.13 H520.03 V636.57 H520.6 V641 H522.25 V645.1 H523.9 V649.2 H524.1 V653.35 H524.3 V657.5 H524.5 V661.65 H524.7 V665.8 H527.2 V669.9 H529.7 V674 H533.8 V680.6 H536.3 V687.3 H538.9 V693.2 H541.35 V697.35 H543.8 V701.5 H545.9 V706.45 H548 V711.4 H549.65 V716.35 H551.3 V721.3 H556.2 V723.8 H556.77 V727.93 H557.33 V732.07 H557.9 V736.2 H562.8 V742.8 H567.8 V744.5 H571.1 V749.5 H579.4 V755.2 H597.3 V761.9 H632.3 V775.1 H634.7 V779.47 H637.1 V783.83 H639.5 V788.2 H672.2 V788.2" fill="none" stroke="#E18727" stroke-width="3.2" stroke-linejoin="miter"/>
<path d="M498.6 558.9 H500.13 V564.2 H501.67 V569.5 H503.2 V574.8 H504.02 V578.92 H504.85 V583.05 H505.68 V587.17 H506.5 V591.3 H507.55 V595.45 H508.6 V599.6 H509.65 V603.75 H510.7 V607.9 H511.32 V612.02 H511.95 V616.15 H512.58 V620.27 H513.2 V624.4 H513.8 V628.55 H514.4 V632.7 H515 V636.85 H515.6 V641 H516.23 V645.95 H516.85 V650.9 H517.48 V655.85 H518.1 V660.8 H518.73 V665.35 H519.35 V669.9 H519.98 V674.45 H520.6 V679 H521.4 V683.15 H522.2 V687.3 H523.5 V691.9 H524.8 V696.5 H527.7 V702.3 H530.6 V708.1 H532.65 V713.05 H534.7 V718 H536.35 V723.8 H538 V729.6 H546.3 V739.5 H547.95 V745.3 H549.6 V751.1 H557.9 V754.4 H564.5 V759.4 H566.15 V763.5 H567.8 V767.6 H572.8 V772.6 H576.1 V779.2 H577.7 V785 H595.1 V789.1 H595.9 V792.5 H612.5 V795.8 H645.5 V800.9 H755.6 V800.9" fill="none" stroke="#BC3C29" stroke-width="3.2" stroke-linejoin="miter"/>
<path d="M498.6 558.9 H499.1 V559.9 H500.75 V565.7 H502.4 V571.5 H503.65 V577.3 H504.9 V583.1 H505.43 V587.5 H505.97 V591.9 H506.5 V596.3 H507.12 V601.25 H507.75 V606.2 H508.38 V611.15 H509 V616.1 H509.62 V621.08 H510.25 V626.05 H510.88 V631.02 H511.5 V636 H512.12 V640.95 H512.75 V645.9 H513.38 V650.85 H514 V655.8 H514.62 V660.77 H515.25 V665.75 H515.88 V670.73 H516.5 V675.7 H517.3 V681.5 H518.1 V687.3 H518.95 V691.9 H519.8 V696.5 H520.65 V701.48 H521.5 V706.45 H522.35 V711.42 H523.2 V716.4 H524.3 V720.8 H525.4 V725.2 H526.5 V729.6 H528.55 V733.75 H530.6 V737.9 H532.25 V742.85 H533.9 V747.8 H538.9 V752.8 H542.2 V759.4 H544.25 V765.2 H546.3 V771 H551.3 V775.9 H557.9 V779.2 H562.8 V782.5 H567.8 V785.8 H568.6 V788.3 H617.4 V791.6 H622.4 V794.1 H634.8 V796.8 H691.5 V805.5 H713.4 V805.5" fill="none" stroke="#0072B5" stroke-width="3.2" stroke-linejoin="miter"/>
<line x1="580" y1="745.5" x2="580" y2="753.5" stroke="#E18727" stroke-width="0.9"/>
<line x1="600" y1="757.9" x2="600" y2="765.9" stroke="#E18727" stroke-width="0.9"/>
<line x1="612" y1="757.9" x2="612" y2="765.9" stroke="#E18727" stroke-width="0.9"/>
<line x1="622" y1="757.9" x2="622" y2="765.9" stroke="#E18727" stroke-width="0.9"/>
<line x1="643" y1="784.2" x2="643" y2="792.2" stroke="#E18727" stroke-width="0.9"/>
<line x1="672" y1="784.2" x2="672" y2="792.2" stroke="#E18727" stroke-width="0.9"/>
<line x1="557" y1="750.4" x2="557" y2="758.4" stroke="#BC3C29" stroke-width="0.9"/>
<line x1="588" y1="785.1" x2="588" y2="793.1" stroke="#BC3C29" stroke-width="0.9"/>
<line x1="608" y1="788.5" x2="608" y2="796.5" stroke="#BC3C29" stroke-width="0.9"/>
<line x1="699" y1="796.9" x2="699" y2="804.9" stroke="#BC3C29" stroke-width="0.9"/>
<line x1="755" y1="796.9" x2="755" y2="804.9" stroke="#BC3C29" stroke-width="0.9"/>
<line x1="570" y1="784.3" x2="570" y2="792.3" stroke="#0072B5" stroke-width="0.9"/>
<line x1="575" y1="784.3" x2="575" y2="792.3" stroke="#0072B5" stroke-width="0.9"/>
<line x1="580" y1="784.3" x2="580" y2="792.3" stroke="#0072B5" stroke-width="0.9"/>
<line x1="590" y1="784.3" x2="590" y2="792.3" stroke="#0072B5" stroke-width="0.9"/>
<line x1="713" y1="801.5" x2="713" y2="809.5" stroke="#0072B5" stroke-width="0.9"/>
<path d="M498.6 687 H536" fill="none" stroke="#000" stroke-width="2" stroke-dasharray="6.5 4"/>
<path d="M517.9 687 V814.7" fill="none" stroke="#000" stroke-width="2" stroke-dasharray="6.5 4"/>
<path d="M522.3 687 V814.7" fill="none" stroke="#000" stroke-width="2" stroke-dasharray="6.5 4"/>
<path d="M535.6 687 V814.7" fill="none" stroke="#000" stroke-width="2" stroke-dasharray="6.5 4"/>
<rect x="484.5" y="547.5" width="302" height="279" fill="none" stroke="#333333" stroke-width="1.1"/>
<line x1="481.5" y1="814.7" x2="484.5" y2="814.7" stroke="#333333" stroke-width="1.1"/>
<text x="479" y="817.9" font-family="'Liberation Serif','Times New Roman',serif" font-size="9" fill="#444444" text-anchor="end">0.00</text>
<line x1="481.5" y1="750.75" x2="484.5" y2="750.75" stroke="#333333" stroke-width="1.1"/>
<text x="479" y="753.95" font-family="'Liberation Serif','Times New Roman',serif" font-size="9" fill="#444444" text-anchor="end">0.25</text>
<line x1="481.5" y1="686.8" x2="484.5" y2="686.8" stroke="#333333" stroke-width="1.1"/>
<text x="479" y="690" font-family="'Liberation Serif','Times New Roman',serif" font-size="9" fill="#444444" text-anchor="end">0.50</text>
<line x1="481.5" y1="622.85" x2="484.5" y2="622.85" stroke="#333333" stroke-width="1.1"/>
<text x="479" y="626.05" font-family="'Liberation Serif','Times New Roman',serif" font-size="9" fill="#444444" text-anchor="end">0.75</text>
<line x1="481.5" y1="558.9" x2="484.5" y2="558.9" stroke="#333333" stroke-width="1.1"/>
<text x="479" y="562.1" font-family="'Liberation Serif','Times New Roman',serif" font-size="9" fill="#444444" text-anchor="end">1.00</text>
<line x1="498.6" y1="826.5" x2="498.6" y2="829.5" stroke="#333333" stroke-width="1.1"/>
<line x1="567.3" y1="826.5" x2="567.3" y2="829.5" stroke="#333333" stroke-width="1.1"/>
<line x1="636" y1="826.5" x2="636" y2="829.5" stroke="#333333" stroke-width="1.1"/>
<line x1="704.7" y1="826.5" x2="704.7" y2="829.5" stroke="#333333" stroke-width="1.1"/>
<line x1="773.4" y1="826.5" x2="773.4" y2="829.5" stroke="#333333" stroke-width="1.1"/>
<text transform="translate(430.5 689.4) rotate(-90)" font-family="'Liberation Serif','Times New Roman',serif" font-size="11.9" text-anchor="middle">Survival probability</text>
<text x="713.4" y="562" font-family="'Liberation Serif','Times New Roman',serif" font-size="11.5">cgga</text>
<line x1="714.7" y1="578.3" x2="729.4" y2="578.3" stroke="#BC3C29" stroke-width="3"/>
<line x1="721.9" y1="573.3" x2="721.9" y2="581.3" stroke="#BC3C29" stroke-width="0.8"/>
<text x="737.7" y="581.8" font-family="'Liberation Serif','Times New Roman',serif" font-size="9.5" fill="#000">groups=C1</text>
<line x1="714.7" y1="597" x2="729.4" y2="597" stroke="#0072B5" stroke-width="3"/>
<line x1="721.9" y1="592" x2="721.9" y2="600" stroke="#0072B5" stroke-width="0.8"/>
<text x="737.7" y="600.5" font-family="'Liberation Serif','Times New Roman',serif" font-size="9.5" fill="#000">groups=C2</text>
<line x1="714.7" y1="615.7" x2="729.4" y2="615.7" stroke="#E18727" stroke-width="3"/>
<line x1="721.9" y1="610.7" x2="721.9" y2="618.7" stroke="#E18727" stroke-width="0.8"/>
<text x="737.7" y="619.2" font-family="'Liberation Serif','Times New Roman',serif" font-size="9.5" fill="#000">groups=C3</text>
<text x="497.5" y="770.8" font-family="'Liberation Serif','Times New Roman',serif" font-size="15">p = 0.0019</text>
<rect x="484.5" y="831.5" width="302" height="44" fill="#fff"/>
<line x1="532.95" y1="831.5" x2="532.95" y2="875.5" stroke="#EBEBEB" stroke-width="0.7"/>
<line x1="601.65" y1="831.5" x2="601.65" y2="875.5" stroke="#EBEBEB" stroke-width="0.7"/>
<line x1="670.35" y1="831.5" x2="670.35" y2="875.5" stroke="#EBEBEB" stroke-width="0.7"/>
<line x1="739.05" y1="831.5" x2="739.05" y2="875.5" stroke="#EBEBEB" stroke-width="0.7"/>
<line x1="498.6" y1="831.5" x2="498.6" y2="875.5" stroke="#EBEBEB" stroke-width="1.3"/>
<line x1="567.3" y1="831.5" x2="567.3" y2="875.5" stroke="#EBEBEB" stroke-width="1.3"/>
<line x1="636" y1="831.5" x2="636" y2="875.5" stroke="#EBEBEB" stroke-width="1.3"/>
<line x1="704.7" y1="831.5" x2="704.7" y2="875.5" stroke="#EBEBEB" stroke-width="1.3"/>
<line x1="773.4" y1="831.5" x2="773.4" y2="875.5" stroke="#EBEBEB" stroke-width="1.3"/>
<line x1="484.5" y1="839.2" x2="786.5" y2="839.2" stroke="#EBEBEB" stroke-width="1.3"/>
<line x1="484.5" y1="853.4" x2="786.5" y2="853.4" stroke="#EBEBEB" stroke-width="1.3"/>
<line x1="484.5" y1="867.8" x2="786.5" y2="867.8" stroke="#EBEBEB" stroke-width="1.3"/>
<text x="498.6" y="844.2" font-family="'Liberation Serif','Times New Roman',serif" font-size="14" text-anchor="middle">124</text>
<text x="567.3" y="844.2" font-family="'Liberation Serif','Times New Roman',serif" font-size="14" text-anchor="middle">17</text>
<text x="636" y="844.2" font-family="'Liberation Serif','Times New Roman',serif" font-size="14" text-anchor="middle">5</text>
<text x="704.7" y="844.2" font-family="'Liberation Serif','Times New Roman',serif" font-size="14" text-anchor="middle">1</text>
<text x="773.4" y="844.2" font-family="'Liberation Serif','Times New Roman',serif" font-size="14" text-anchor="middle">0</text>
<line x1="481.5" y1="839.2" x2="484.5" y2="839.2" stroke="#333333" stroke-width="1.1"/>
<text x="479" y="842.4" font-family="'Liberation Serif','Times New Roman',serif" font-size="9.5" fill="#444444" text-anchor="end">groups=C1</text>
<text x="498.6" y="858.4" font-family="'Liberation Serif','Times New Roman',serif" font-size="14" text-anchor="middle">178</text>
<text x="567.3" y="858.4" font-family="'Liberation Serif','Times New Roman',serif" font-size="14" text-anchor="middle">19</text>
<text x="636" y="858.4" font-family="'Liberation Serif','Times New Roman',serif" font-size="14" text-anchor="middle">6</text>
<text x="704.7" y="858.4" font-family="'Liberation Serif','Times New Roman',serif" font-size="14" text-anchor="middle">1</text>
<text x="773.4" y="858.4" font-family="'Liberation Serif','Times New Roman',serif" font-size="14" text-anchor="middle">0</text>
<line x1="481.5" y1="853.4" x2="484.5" y2="853.4" stroke="#333333" stroke-width="1.1"/>
<text x="479" y="856.6" font-family="'Liberation Serif','Times New Roman',serif" font-size="9.5" fill="#444444" text-anchor="end">groups=C2</text>
<text x="498.6" y="872.8" font-family="'Liberation Serif','Times New Roman',serif" font-size="14" text-anchor="middle">72</text>
<text x="567.3" y="872.8" font-family="'Liberation Serif','Times New Roman',serif" font-size="14" text-anchor="middle">13</text>
<text x="636" y="872.8" font-family="'Liberation Serif','Times New Roman',serif" font-size="14" text-anchor="middle">3</text>
<text x="704.7" y="872.8" font-family="'Liberation Serif','Times New Roman',serif" font-size="14" text-anchor="middle">0</text>
<text x="773.4" y="872.8" font-family="'Liberation Serif','Times New Roman',serif" font-size="14" text-anchor="middle">0</text>
<line x1="481.5" y1="867.8" x2="484.5" y2="867.8" stroke="#333333" stroke-width="1.1"/>
<text x="479" y="871" font-family="'Liberation Serif','Times New Roman',serif" font-size="9.5" fill="#444444" text-anchor="end">groups=C3</text>
<rect x="484.5" y="831.5" width="302" height="44" fill="none" stroke="#333333" stroke-width="1.1"/>
<line x1="498.6" y1="875.5" x2="498.6" y2="878.5" stroke="#333333" stroke-width="1.1"/>
<text x="498.6" y="889" font-family="'Liberation Serif','Times New Roman',serif" font-size="9" fill="#444444" text-anchor="middle">0</text>
<line x1="567.3" y1="875.5" x2="567.3" y2="878.5" stroke="#333333" stroke-width="1.1"/>
<text x="567.3" y="889" font-family="'Liberation Serif','Times New Roman',serif" font-size="9" fill="#444444" text-anchor="middle">3</text>
<line x1="636" y1="875.5" x2="636" y2="878.5" stroke="#333333" stroke-width="1.1"/>
<text x="636" y="889" font-family="'Liberation Serif','Times New Roman',serif" font-size="9" fill="#444444" text-anchor="middle">6</text>
<line x1="704.7" y1="875.5" x2="704.7" y2="878.5" stroke="#333333" stroke-width="1.1"/>
<text x="704.7" y="889" font-family="'Liberation Serif','Times New Roman',serif" font-size="9" fill="#444444" text-anchor="middle">9</text>
<line x1="773.4" y1="875.5" x2="773.4" y2="878.5" stroke="#333333" stroke-width="1.1"/>
<text x="773.4" y="889" font-family="'Liberation Serif','Times New Roman',serif" font-size="9" fill="#444444" text-anchor="middle">12</text>
<text x="635.5" y="902" font-family="'Liberation Serif','Times New Roman',serif" font-size="12" text-anchor="middle">Time</text>
<rect x="836.5" y="547.5" width="324" height="327" fill="#fff"/>
<line x1="889.95" y1="547.5" x2="889.95" y2="874.5" stroke="#EBEBEB" stroke-width="0.7"/>
<line x1="962.45" y1="547.5" x2="962.45" y2="874.5" stroke="#EBEBEB" stroke-width="0.7"/>
<line x1="1034.95" y1="547.5" x2="1034.95" y2="874.5" stroke="#EBEBEB" stroke-width="0.7"/>
<line x1="1107.45" y1="547.5" x2="1107.45" y2="874.5" stroke="#EBEBEB" stroke-width="0.7"/>
<line x1="853.7" y1="547.5" x2="853.7" y2="874.5" stroke="#EBEBEB" stroke-width="1.3"/>
<line x1="926.2" y1="547.5" x2="926.2" y2="874.5" stroke="#EBEBEB" stroke-width="1.3"/>
<line x1="998.7" y1="547.5" x2="998.7" y2="874.5" stroke="#EBEBEB" stroke-width="1.3"/>
<line x1="1071.2" y1="547.5" x2="1071.2" y2="874.5" stroke="#EBEBEB" stroke-width="1.3"/>
<line x1="1143.7" y1="547.5" x2="1143.7" y2="874.5" stroke="#EBEBEB" stroke-width="1.3"/>
<line x1="836.5" y1="681.6" x2="1160.5" y2="681.6" stroke="#EBEBEB" stroke-width="1.3"/>
<line x1="836.5" y1="755.9" x2="1160.5" y2="755.9" stroke="#EBEBEB" stroke-width="1.3"/>
<line x1="836.5" y1="830.2" x2="1160.5" y2="830.2" stroke="#EBEBEB" stroke-width="1.3"/>
<path d="M850.8 681.6 C852.87 681.43 859.48 681.87 863.2 680.6 C866.92 679.33 870.07 677.58 873.1 674 C876.13 670.42 878.65 665.43 881.4 659.1 C884.15 652.77 886.85 644 889.6 636 C892.35 628 895.68 617.32 897.9 611.1 C900.12 604.88 901.1 601.67 902.9 598.7 C904.7 595.73 906.78 593.85 908.7 593.3 C910.62 592.75 911.78 593.95 914.4 595.4 C917.02 596.85 921.63 601.3 924.4 602 C927.17 602.7 928.52 602.48 931 599.6 C933.48 596.72 936.55 590.5 939.3 584.7 C942.05 578.9 944.62 570.87 947.5 564.8 C950.38 558.73 953.83 550.23 956.6 548.3 C959.37 546.37 961.48 549.07 964.1 553.2 C966.72 557.33 969.55 564.27 972.3 573.1 C975.05 581.93 977.83 595.17 980.6 606.2 C983.37 617.23 986.13 628.83 988.9 639.3 C991.67 649.77 994.35 662.47 997.2 669 C1000.05 675.53 1002.53 676.5 1006 678.5 C1009.47 680.5 1013.67 680.48 1018 681 C1022.33 681.52 1010.57 681.5 1032 681.6 C1053.43 681.7 1127.5 681.6 1146.6 681.6 L1146.6 681.6 L850.8 681.6 Z" fill="#E18727" stroke="none"/>
<path d="M850.8 681.6 C852.87 681.43 859.48 681.87 863.2 680.6 C866.92 679.33 870.07 677.58 873.1 674 C876.13 670.42 878.65 665.43 881.4 659.1 C884.15 652.77 886.85 644 889.6 636 C892.35 628 895.68 617.32 897.9 611.1 C900.12 604.88 901.1 601.67 902.9 598.7 C904.7 595.73 906.78 593.85 908.7 593.3 C910.62 592.75 911.78 593.95 914.4 595.4 C917.02 596.85 921.63 601.3 924.4 602 C927.17 602.7 928.52 602.48 931 599.6 C933.48 596.72 936.55 590.5 939.3 584.7 C942.05 578.9 944.62 570.87 947.5 564.8 C950.38 558.73 953.83 550.23 956.6 548.3 C959.37 546.37 961.48 549.07 964.1 553.2 C966.72 557.33 969.55 564.27 972.3 573.1 C975.05 581.93 977.83 595.17 980.6 606.2 C983.37 617.23 986.13 628.83 988.9 639.3 C991.67 649.77 994.35 662.47 997.2 669 C1000.05 675.53 1002.53 676.5 1006 678.5 C1009.47 680.5 1013.67 680.48 1018 681 C1022.33 681.52 1010.57 681.5 1032 681.6 C1053.43 681.7 1127.5 681.6 1146.6 681.6" fill="none" stroke="#000" stroke-width="1.7" stroke-linejoin="round"/>
<path d="M849.9 755.9 C853.77 755.62 867.4 755.13 873.1 754.2 C878.8 753.27 880.43 751.98 884.1 750.3 C887.77 748.62 891.42 745.57 895.1 744.1 C898.78 742.63 902.52 741.38 906.2 741.5 C909.88 741.62 913.17 743.45 917.2 744.8 C921.23 746.15 927.1 749.05 930.4 749.6 C933.7 750.15 934.42 750.2 937 748.1 C939.58 746 942.95 741.78 945.9 737 C948.85 732.22 951.77 726.02 954.7 719.4 C957.63 712.78 960.57 702.45 963.5 697.3 C966.43 692.15 969.35 690.52 972.3 688.5 C975.25 686.48 978.25 686.3 981.2 685.2 C984.15 684.1 987.07 684.28 990 681.9 C992.93 679.52 995.5 675.32 998.8 670.9 C1002.1 666.48 1006.3 659.08 1009.8 655.4 C1013.3 651.72 1016.48 648.43 1019.8 648.8 C1023.12 649.17 1026.58 652.82 1029.7 657.6 C1032.82 662.38 1035.2 670.52 1038.5 677.5 C1041.8 684.48 1045.82 692.88 1049.5 699.5 C1053.18 706.12 1056.92 712.05 1060.6 717.2 C1064.28 722.35 1067.93 726.35 1071.6 730.4 C1075.27 734.45 1078.93 738.92 1082.6 741.5 C1086.27 744.08 1089.55 744.73 1093.6 745.9 C1097.65 747.07 1102.85 747.48 1106.9 748.5 C1110.95 749.52 1114.23 750.9 1117.9 752 C1121.57 753.1 1124.12 754.45 1128.9 755.1 C1133.68 755.75 1143.65 755.77 1146.6 755.9 L1146.6 755.9 L849.9 755.9 Z" fill="#0072B5" stroke="none"/>
<path d="M849.9 755.9 C853.77 755.62 867.4 755.13 873.1 754.2 C878.8 753.27 880.43 751.98 884.1 750.3 C887.77 748.62 891.42 745.57 895.1 744.1 C898.78 742.63 902.52 741.38 906.2 741.5 C909.88 741.62 913.17 743.45 917.2 744.8 C921.23 746.15 927.1 749.05 930.4 749.6 C933.7 750.15 934.42 750.2 937 748.1 C939.58 746 942.95 741.78 945.9 737 C948.85 732.22 951.77 726.02 954.7 719.4 C957.63 712.78 960.57 702.45 963.5 697.3 C966.43 692.15 969.35 690.52 972.3 688.5 C975.25 686.48 978.25 686.3 981.2 685.2 C984.15 684.1 987.07 684.28 990 681.9 C992.93 679.52 995.5 675.32 998.8 670.9 C1002.1 666.48 1006.3 659.08 1009.8 655.4 C1013.3 651.72 1016.48 648.43 1019.8 648.8 C1023.12 649.17 1026.58 652.82 1029.7 657.6 C1032.82 662.38 1035.2 670.52 1038.5 677.5 C1041.8 684.48 1045.82 692.88 1049.5 699.5 C1053.18 706.12 1056.92 712.05 1060.6 717.2 C1064.28 722.35 1067.93 726.35 1071.6 730.4 C1075.27 734.45 1078.93 738.92 1082.6 741.5 C1086.27 744.08 1089.55 744.73 1093.6 745.9 C1097.65 747.07 1102.85 747.48 1106.9 748.5 C1110.95 749.52 1114.23 750.9 1117.9 752 C1121.57 753.1 1124.12 754.45 1128.9 755.1 C1133.68 755.75 1143.65 755.77 1146.6 755.9" fill="none" stroke="#000" stroke-width="1.7" stroke-linejoin="round"/>
<path d="M849.9 830.2 C853.03 829.93 863 830.15 868.7 828.6 C874.4 827.05 879.33 823.67 884.1 820.9 C888.87 818.13 893.25 814.95 897.3 812 C901.35 809.05 904.72 806.87 908.4 803.2 C912.08 799.53 916.1 794.78 919.4 790 C922.7 785.22 925.27 780.02 928.2 774.5 C931.13 768.98 933.68 762.58 937 756.9 C940.32 751.22 944.42 744.27 948.1 740.4 C951.78 736.53 955.98 735 959.1 733.7 C962.22 732.4 963.87 732.05 966.8 732.6 C969.73 733.15 972.47 734.97 976.7 737 C980.93 739.03 988.15 742.22 992.2 744.8 C996.25 747.38 998.07 749.02 1001 752.5 C1003.93 755.98 1006.48 760.18 1009.8 765.7 C1013.12 771.22 1017.22 779.35 1020.9 785.6 C1024.58 791.85 1028.23 798.25 1031.9 803.2 C1035.57 808.15 1038.87 812.17 1042.9 815.3 C1046.93 818.43 1051.32 820.33 1056.1 822 C1060.88 823.67 1065.35 824.2 1071.6 825.3 C1077.85 826.4 1086.25 827.78 1093.6 828.6 C1100.95 829.42 1106.87 829.93 1115.7 830.2 C1124.53 830.47 1141.45 830.2 1146.6 830.2 L1146.6 830.2 L849.9 830.2 Z" fill="#BC3C29" stroke="none"/>
<path d="M849.9 830.2 C853.03 829.93 863 830.15 868.7 828.6 C874.4 827.05 879.33 823.67 884.1 820.9 C888.87 818.13 893.25 814.95 897.3 812 C901.35 809.05 904.72 806.87 908.4 803.2 C912.08 799.53 916.1 794.78 919.4 790 C922.7 785.22 925.27 780.02 928.2 774.5 C931.13 768.98 933.68 762.58 937 756.9 C940.32 751.22 944.42 744.27 948.1 740.4 C951.78 736.53 955.98 735 959.1 733.7 C962.22 732.4 963.87 732.05 966.8 732.6 C969.73 733.15 972.47 734.97 976.7 737 C980.93 739.03 988.15 742.22 992.2 744.8 C996.25 747.38 998.07 749.02 1001 752.5 C1003.93 755.98 1006.48 760.18 1009.8 765.7 C1013.12 771.22 1017.22 779.35 1020.9 785.6 C1024.58 791.85 1028.23 798.25 1031.9 803.2 C1035.57 808.15 1038.87 812.17 1042.9 815.3 C1046.93 818.43 1051.32 820.33 1056.1 822 C1060.88 823.67 1065.35 824.2 1071.6 825.3 C1077.85 826.4 1086.25 827.78 1093.6 828.6 C1100.95 829.42 1106.87 829.93 1115.7 830.2 C1124.53 830.47 1141.45 830.2 1146.6 830.2" fill="none" stroke="#000" stroke-width="1.7" stroke-linejoin="round"/>
<line x1="1107.8" y1="555" x2="1107.8" y2="714.4" stroke="#000" stroke-width="1.25"/>
<line x1="1131.5" y1="555" x2="1131.5" y2="872" stroke="#000" stroke-width="1.25"/>
<line x1="1155.5" y1="713.2" x2="1155.5" y2="872" stroke="#888" stroke-width="1.25"/>
<text transform="translate(1098 639) rotate(90)" font-family="'Liberation Serif','Times New Roman',serif" font-size="10" font-weight="bold" text-anchor="middle" dominant-baseline="central">****</text>
<text transform="translate(1122.7 717) rotate(90)" font-family="'Liberation Serif','Times New Roman',serif" font-size="10" font-weight="bold" text-anchor="middle" dominant-baseline="central">***</text>
<text transform="translate(1146 797) rotate(90)" font-family="'Liberation Serif','Times New Roman',serif" font-size="10" font-weight="bold" text-anchor="middle" dominant-baseline="central">****</text>
<rect x="836.5" y="547.5" width="324" height="327" fill="none" stroke="#333333" stroke-width="1.1"/>
<line x1="833.5" y1="681.6" x2="836.5" y2="681.6" stroke="#333333" stroke-width="1.1"/>
<text x="831" y="684.9" font-family="'Liberation Serif','Times New Roman',serif" font-size="9.5" fill="#444444" text-anchor="end">C3</text>
<line x1="833.5" y1="755.9" x2="836.5" y2="755.9" stroke="#333333" stroke-width="1.1"/>
<text x="831" y="759.2" font-family="'Liberation Serif','Times New Roman',serif" font-size="9.5" fill="#444444" text-anchor="end">C2</text>
<line x1="833.5" y1="830.2" x2="836.5" y2="830.2" stroke="#333333" stroke-width="1.1"/>
<text x="831" y="833.5" font-family="'Liberation Serif','Times New Roman',serif" font-size="9.5" fill="#444444" text-anchor="end">C1</text>
<line x1="853.7" y1="874.5" x2="853.7" y2="877.5" stroke="#333333" stroke-width="1.1"/>
<text x="853.7" y="887" font-family="'Liberation Serif','Times New Roman',serif" font-size="9" fill="#444444" text-anchor="middle">0.8</text>
<line x1="926.2" y1="874.5" x2="926.2" y2="877.5" stroke="#333333" stroke-width="1.1"/>
<text x="926.2" y="887" font-family="'Liberation Serif','Times New Roman',serif" font-size="9" fill="#444444" text-anchor="middle">0.9</text>
<line x1="998.7" y1="874.5" x2="998.7" y2="877.5" stroke="#333333" stroke-width="1.1"/>
<text x="998.7" y="887" font-family="'Liberation Serif','Times New Roman',serif" font-size="9" fill="#444444" text-anchor="middle">1.0</text>
<line x1="1071.2" y1="874.5" x2="1071.2" y2="877.5" stroke="#333333" stroke-width="1.1"/>
<text x="1071.2" y="887" font-family="'Liberation Serif','Times New Roman',serif" font-size="9" fill="#444444" text-anchor="middle">1.1</text>
<line x1="1143.7" y1="874.5" x2="1143.7" y2="877.5" stroke="#333333" stroke-width="1.1"/>
<text x="1143.7" y="887" font-family="'Liberation Serif','Times New Roman',serif" font-size="9" fill="#444444" text-anchor="middle">1.2</text>
<text x="997.5" y="900" font-family="'Liberation Serif','Times New Roman',serif" font-size="11.25" text-anchor="middle">HALLMARK_TNFA_SIGNALING_VIA_NFKB Score</text>
<text transform="translate(816.2 695.5) rotate(-90)" font-family="'Liberation Serif','Times New Roman',serif" font-size="11.2" text-anchor="middle">TCGA Cluster</text>
<rect x="1202.5" y="547.5" width="323" height="328" fill="#fff"/>
<line x1="1233" y1="547.5" x2="1233" y2="875.5" stroke="#EBEBEB" stroke-width="0.7"/>
<line x1="1315.8" y1="547.5" x2="1315.8" y2="875.5" stroke="#EBEBEB" stroke-width="0.7"/>
<line x1="1398.6" y1="547.5" x2="1398.6" y2="875.5" stroke="#EBEBEB" stroke-width="0.7"/>
<line x1="1481.4" y1="547.5" x2="1481.4" y2="875.5" stroke="#EBEBEB" stroke-width="0.7"/>
<line x1="1274.4" y1="547.5" x2="1274.4" y2="875.5" stroke="#EBEBEB" stroke-width="1.3"/>
<line x1="1357.2" y1="547.5" x2="1357.2" y2="875.5" stroke="#EBEBEB" stroke-width="1.3"/>
<line x1="1440" y1="547.5" x2="1440" y2="875.5" stroke="#EBEBEB" stroke-width="1.3"/>
<line x1="1522.8" y1="547.5" x2="1522.8" y2="875.5" stroke="#EBEBEB" stroke-width="1.3"/>
<line x1="1202.5" y1="681.6" x2="1525.5" y2="681.6" stroke="#EBEBEB" stroke-width="1.3"/>
<line x1="1202.5" y1="755.9" x2="1525.5" y2="755.9" stroke="#EBEBEB" stroke-width="1.3"/>
<line x1="1202.5" y1="830.2" x2="1525.5" y2="830.2" stroke="#EBEBEB" stroke-width="1.3"/>
<path d="M1216.5 681.6 C1219.1 681.35 1227.77 681.47 1232.1 680.1 C1236.43 678.73 1239.02 676.95 1242.5 673.4 C1245.98 669.85 1249.52 664.7 1253 658.8 C1256.48 652.9 1259.93 646.33 1263.4 638 C1266.87 629.67 1270.33 618.53 1273.8 608.8 C1277.27 599.07 1281.07 587.93 1284.2 579.6 C1287.33 571.27 1289.65 564.02 1292.6 558.8 C1295.55 553.58 1298.78 548.3 1301.9 548.3 C1305.02 548.3 1308.33 552.88 1311.3 558.8 C1314.27 564.72 1316.92 574.77 1319.7 583.8 C1322.48 592.83 1325.58 606.23 1328 613 C1330.42 619.77 1331.42 621.45 1334.2 624.4 C1336.98 627.35 1341.22 628.43 1344.7 630.7 C1348.18 632.97 1351.63 636.1 1355.1 638 C1358.57 639.9 1362.03 640.72 1365.5 642.1 C1368.97 643.48 1372.42 643.87 1375.9 646.3 C1379.38 648.73 1382.92 653.22 1386.4 656.7 C1389.88 660.18 1392.98 664.23 1396.8 667.2 C1400.62 670.17 1404.78 672.48 1409.3 674.5 C1413.82 676.52 1419.03 678.12 1423.9 679.3 C1428.77 680.48 1423.9 681.22 1438.5 681.6 C1453.1 681.98 1499.33 681.6 1511.5 681.6 L1511.5 681.6 L1216.5 681.6 Z" fill="#E18727" stroke="none"/>
<path d="M1216.5 681.6 C1219.1 681.35 1227.77 681.47 1232.1 680.1 C1236.43 678.73 1239.02 676.95 1242.5 673.4 C1245.98 669.85 1249.52 664.7 1253 658.8 C1256.48 652.9 1259.93 646.33 1263.4 638 C1266.87 629.67 1270.33 618.53 1273.8 608.8 C1277.27 599.07 1281.07 587.93 1284.2 579.6 C1287.33 571.27 1289.65 564.02 1292.6 558.8 C1295.55 553.58 1298.78 548.3 1301.9 548.3 C1305.02 548.3 1308.33 552.88 1311.3 558.8 C1314.27 564.72 1316.92 574.77 1319.7 583.8 C1322.48 592.83 1325.58 606.23 1328 613 C1330.42 619.77 1331.42 621.45 1334.2 624.4 C1336.98 627.35 1341.22 628.43 1344.7 630.7 C1348.18 632.97 1351.63 636.1 1355.1 638 C1358.57 639.9 1362.03 640.72 1365.5 642.1 C1368.97 643.48 1372.42 643.87 1375.9 646.3 C1379.38 648.73 1382.92 653.22 1386.4 656.7 C1389.88 660.18 1392.98 664.23 1396.8 667.2 C1400.62 670.17 1404.78 672.48 1409.3 674.5 C1413.82 676.52 1419.03 678.12 1423.9 679.3 C1428.77 680.48 1423.9 681.22 1438.5 681.6 C1453.1 681.98 1499.33 681.6 1511.5 681.6" fill="none" stroke="#000" stroke-width="1.7" stroke-linejoin="round"/>
<path d="M1216 755.9 C1219.68 755.62 1231.48 755.13 1238.1 754.2 C1244.72 753.27 1250.18 751.43 1255.7 750.3 C1261.22 749.17 1266.05 748.5 1271.2 747.4 C1276.35 746.3 1282.2 745.25 1286.6 743.7 C1291 742.15 1294.28 740.68 1297.6 738.1 C1300.92 735.52 1303.18 732.42 1306.5 728.2 C1309.82 723.98 1314.2 717.2 1317.5 712.8 C1320.8 708.4 1323.37 706.58 1326.3 701.8 C1329.23 697.02 1332.15 689.62 1335.1 684.1 C1338.05 678.58 1340.68 672.37 1344 668.7 C1347.32 665.03 1350.97 662.83 1355 662.1 C1359.03 661.37 1363.8 662.83 1368.2 664.3 C1372.6 665.77 1376.98 667.6 1381.4 670.9 C1385.82 674.2 1390.28 679.7 1394.7 684.1 C1399.12 688.5 1403.5 693.25 1407.9 697.3 C1412.3 701.35 1416.68 704.35 1421.1 708.4 C1425.52 712.45 1429.98 717.2 1434.4 721.6 C1438.82 726 1442.83 730.75 1447.6 734.8 C1452.37 738.85 1457.48 742.95 1463 745.9 C1468.52 748.85 1474.82 750.83 1480.7 752.5 C1486.58 754.17 1493.17 755.33 1498.3 755.9 C1503.43 756.47 1509.3 755.9 1511.5 755.9 L1511.5 755.9 L1216 755.9 Z" fill="#0072B5" stroke="none"/>
<path d="M1216 755.9 C1219.68 755.62 1231.48 755.13 1238.1 754.2 C1244.72 753.27 1250.18 751.43 1255.7 750.3 C1261.22 749.17 1266.05 748.5 1271.2 747.4 C1276.35 746.3 1282.2 745.25 1286.6 743.7 C1291 742.15 1294.28 740.68 1297.6 738.1 C1300.92 735.52 1303.18 732.42 1306.5 728.2 C1309.82 723.98 1314.2 717.2 1317.5 712.8 C1320.8 708.4 1323.37 706.58 1326.3 701.8 C1329.23 697.02 1332.15 689.62 1335.1 684.1 C1338.05 678.58 1340.68 672.37 1344 668.7 C1347.32 665.03 1350.97 662.83 1355 662.1 C1359.03 661.37 1363.8 662.83 1368.2 664.3 C1372.6 665.77 1376.98 667.6 1381.4 670.9 C1385.82 674.2 1390.28 679.7 1394.7 684.1 C1399.12 688.5 1403.5 693.25 1407.9 697.3 C1412.3 701.35 1416.68 704.35 1421.1 708.4 C1425.52 712.45 1429.98 717.2 1434.4 721.6 C1438.82 726 1442.83 730.75 1447.6 734.8 C1452.37 738.85 1457.48 742.95 1463 745.9 C1468.52 748.85 1474.82 750.83 1480.7 752.5 C1486.58 754.17 1493.17 755.33 1498.3 755.9 C1503.43 756.47 1509.3 755.9 1511.5 755.9" fill="none" stroke="#000" stroke-width="1.7" stroke-linejoin="round"/>
<path d="M1216 830.2 C1218.58 830.03 1226.72 830.38 1231.5 829.2 C1236.28 828.02 1240.3 826.33 1244.7 823.1 C1249.1 819.87 1253.48 814.58 1257.9 809.8 C1262.32 805.02 1267.15 799.17 1271.2 794.4 C1275.25 789.63 1278.53 787.08 1282.2 781.2 C1285.87 775.32 1289.9 767.2 1293.2 759.1 C1296.5 751 1299.05 740.68 1302 732.6 C1304.95 724.52 1308.13 715.53 1310.9 710.6 C1313.67 705.67 1316.22 703.73 1318.6 703 C1320.98 702.27 1322.82 702.73 1325.2 706.2 C1327.58 709.67 1330.15 717.92 1332.9 723.8 C1335.65 729.68 1338.02 734.52 1341.7 741.5 C1345.38 748.48 1350.58 759.08 1355 765.7 C1359.42 772.32 1364.17 776.78 1368.2 781.2 C1372.23 785.62 1375.52 787.43 1379.2 792.2 C1382.88 796.97 1386.25 805.02 1390.3 809.8 C1394.35 814.58 1398.73 817.95 1403.5 820.9 C1408.27 823.85 1413.38 825.95 1418.9 827.5 C1424.42 829.05 1421.17 829.75 1436.6 830.2 C1452.03 830.65 1499.02 830.2 1511.5 830.2 L1511.5 830.2 L1216 830.2 Z" fill="#BC3C29" stroke="none"/>
<path d="M1216 830.2 C1218.58 830.03 1226.72 830.38 1231.5 829.2 C1236.28 828.02 1240.3 826.33 1244.7 823.1 C1249.1 819.87 1253.48 814.58 1257.9 809.8 C1262.32 805.02 1267.15 799.17 1271.2 794.4 C1275.25 789.63 1278.53 787.08 1282.2 781.2 C1285.87 775.32 1289.9 767.2 1293.2 759.1 C1296.5 751 1299.05 740.68 1302 732.6 C1304.95 724.52 1308.13 715.53 1310.9 710.6 C1313.67 705.67 1316.22 703.73 1318.6 703 C1320.98 702.27 1322.82 702.73 1325.2 706.2 C1327.58 709.67 1330.15 717.92 1332.9 723.8 C1335.65 729.68 1338.02 734.52 1341.7 741.5 C1345.38 748.48 1350.58 759.08 1355 765.7 C1359.42 772.32 1364.17 776.78 1368.2 781.2 C1372.23 785.62 1375.52 787.43 1379.2 792.2 C1382.88 796.97 1386.25 805.02 1390.3 809.8 C1394.35 814.58 1398.73 817.95 1403.5 820.9 C1408.27 823.85 1413.38 825.95 1418.9 827.5 C1424.42 829.05 1421.17 829.75 1436.6 830.2 C1452.03 830.65 1499.02 830.2 1511.5 830.2" fill="none" stroke="#000" stroke-width="1.7" stroke-linejoin="round"/>
<line x1="1452.5" y1="548.2" x2="1452.5" y2="712" stroke="#000" stroke-width="1.25"/>
<line x1="1477.5" y1="548.2" x2="1477.5" y2="875" stroke="#000" stroke-width="1.25"/>
<line x1="1502.5" y1="712" x2="1502.5" y2="875" stroke="#000" stroke-width="1.25"/>
<text transform="translate(1459.3 627) rotate(90)" font-family="'Liberation Serif','Times New Roman',serif" font-size="10" font-weight="bold" text-anchor="middle" dominant-baseline="central">****</text>
<text transform="translate(1482.6 707) rotate(90)" font-family="'Liberation Serif','Times New Roman',serif" font-size="10" font-weight="bold" text-anchor="middle" dominant-baseline="central">ns</text>
<text transform="translate(1508.8 790) rotate(90)" font-family="'Liberation Serif','Times New Roman',serif" font-size="10" font-weight="bold" text-anchor="middle" dominant-baseline="central">****</text>
<rect x="1202.5" y="547.5" width="323" height="328" fill="none" stroke="#333333" stroke-width="1.1"/>
<line x1="1199.5" y1="681.6" x2="1202.5" y2="681.6" stroke="#333333" stroke-width="1.1"/>
<text x="1197" y="684.9" font-family="'Liberation Serif','Times New Roman',serif" font-size="9.5" fill="#444444" text-anchor="end">C3</text>
<line x1="1199.5" y1="755.9" x2="1202.5" y2="755.9" stroke="#333333" stroke-width="1.1"/>
<text x="1197" y="759.2" font-family="'Liberation Serif','Times New Roman',serif" font-size="9.5" fill="#444444" text-anchor="end">C2</text>
<line x1="1199.5" y1="830.2" x2="1202.5" y2="830.2" stroke="#333333" stroke-width="1.1"/>
<text x="1197" y="833.5" font-family="'Liberation Serif','Times New Roman',serif" font-size="9.5" fill="#444444" text-anchor="end">C1</text>
<line x1="1274.4" y1="875.5" x2="1274.4" y2="878.5" stroke="#333333" stroke-width="1.1"/>
<text x="1274.4" y="888" font-family="'Liberation Serif','Times New Roman',serif" font-size="9" fill="#444444" text-anchor="middle">0.2</text>
<line x1="1357.2" y1="875.5" x2="1357.2" y2="878.5" stroke="#333333" stroke-width="1.1"/>
<text x="1357.2" y="888" font-family="'Liberation Serif','Times New Roman',serif" font-size="9" fill="#444444" text-anchor="middle">0.4</text>
<line x1="1440" y1="875.5" x2="1440" y2="878.5" stroke="#333333" stroke-width="1.1"/>
<text x="1440" y="888" font-family="'Liberation Serif','Times New Roman',serif" font-size="9" fill="#444444" text-anchor="middle">0.6</text>
<line x1="1522.8" y1="875.5" x2="1522.8" y2="878.5" stroke="#333333" stroke-width="1.1"/>
<text x="1522.8" y="888" font-family="'Liberation Serif','Times New Roman',serif" font-size="9" fill="#444444" text-anchor="middle">0.8</text>
<text x="1363" y="901" font-family="'Liberation Serif','Times New Roman',serif" font-size="11.25" text-anchor="middle">HALLMARK_TNFA_SIGNALING_VIA_NFKB Score</text>
<text transform="translate(1181.5 696) rotate(-90)" font-family="'Liberation Serif','Times New Roman',serif" font-size="11.2" text-anchor="middle">CGGA Cluster</text>
</svg>
</body></html>
